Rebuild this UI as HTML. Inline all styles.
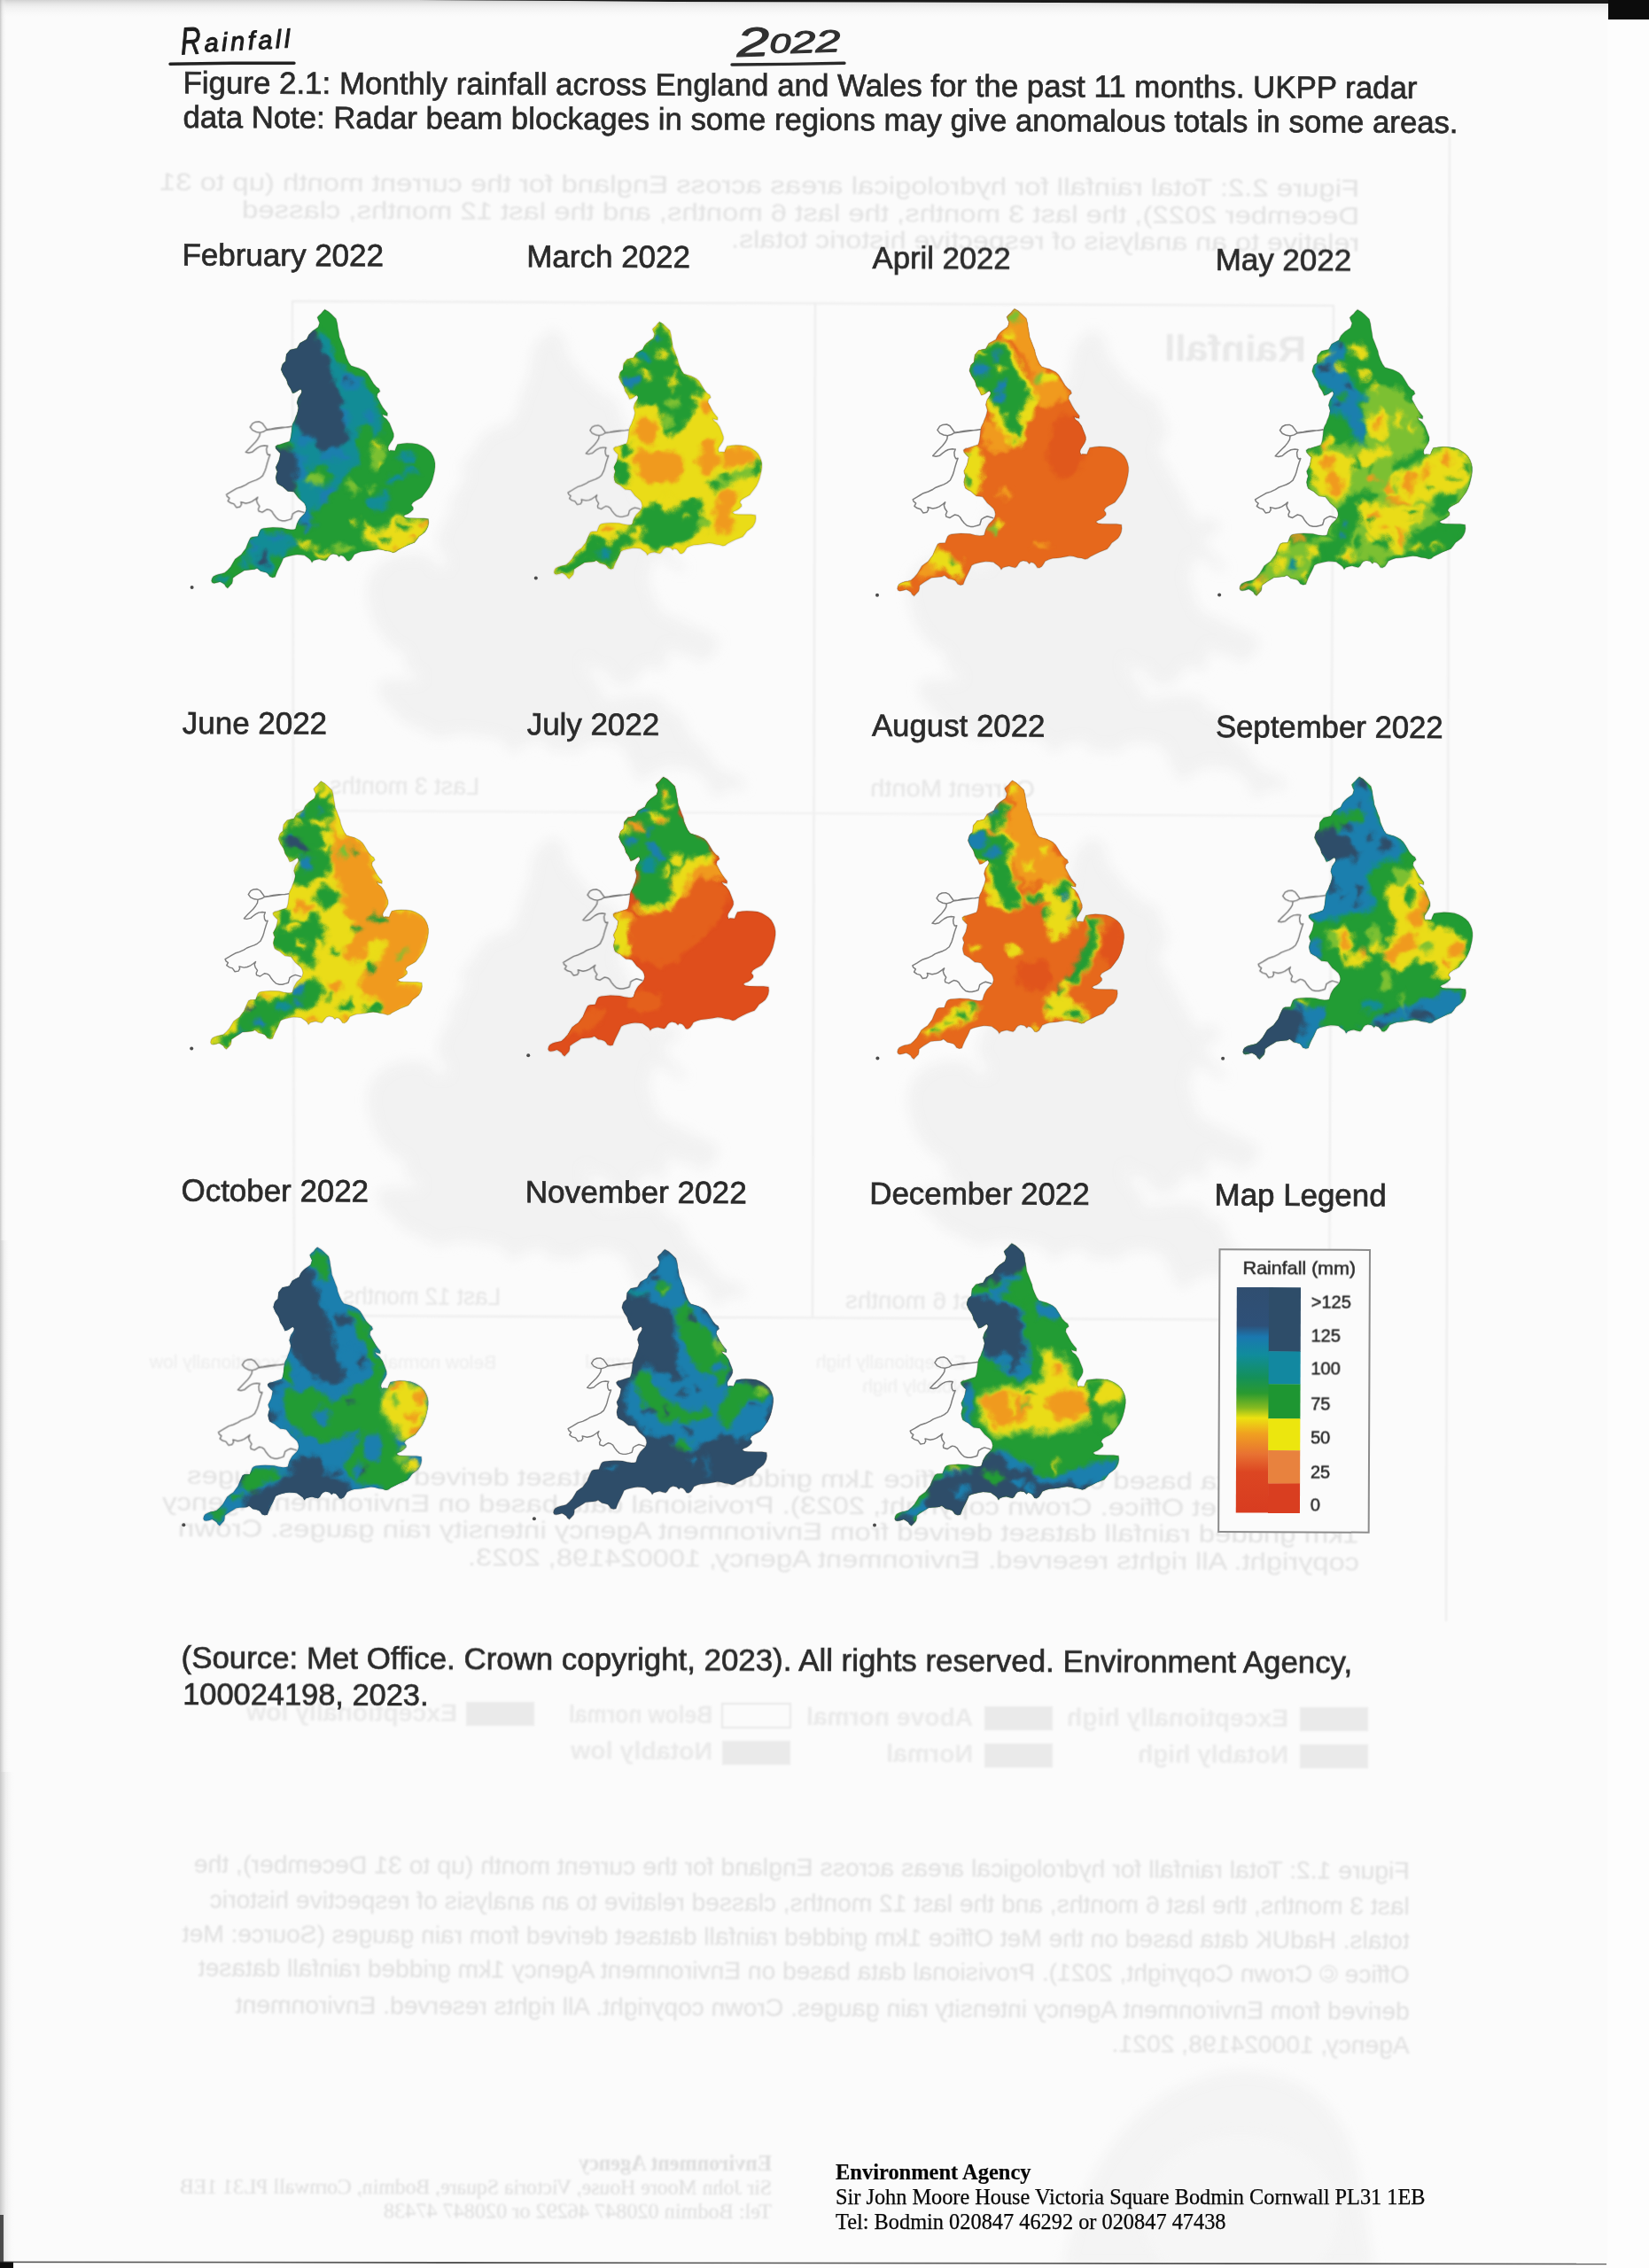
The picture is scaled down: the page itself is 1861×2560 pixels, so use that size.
<!DOCTYPE html>
<html lang="en"><head><meta charset="utf-8"><title>Figure 2.1: Monthly rainfall across England and Wales 2022</title>
<style>
html,body{margin:0;padding:0;background:#fbfbfb;}
body{width:1861px;height:2560px;overflow:hidden;}
svg{display:block;}
text{white-space:pre;}
</style></head>
<body>
<svg width="1861" height="2560" viewBox="0 0 1861 2560">
<defs>
<filter id="gb1" x="-5%" y="-30%" width="110%" height="160%"><feGaussianBlur stdDeviation="1.1"/></filter>
<filter id="gb6" x="-20%" y="-20%" width="140%" height="140%"><feGaussianBlur stdDeviation="7"/></filter>
<g id="gmap"><path d="M1145.1 348.4 L1149.5 350.9 L1153.0 354.1 L1158.3 359.3 L1159.7 364.6 L1160.4 369.9 L1161.4 375.2 L1162.1 380.4 L1164.4 386.1 L1166.2 391.0 L1168.0 395.4 L1168.8 399.8 L1170.9 405.4 L1173.2 410.3 L1175.9 413.9 L1180.3 415.3 L1184.7 416.5 L1188.5 418.3 L1191.7 420.0 L1194.9 423.0 L1197.0 426.2 L1199.6 430.6 L1202.2 435.0 L1205.4 438.5 L1208.4 440.6 L1209.6 443.8 L1206.6 446.4 L1206.1 449.9 L1208.4 454.3 L1210.2 457.8 L1212.8 462.2 L1215.4 465.7 L1218.4 469.3 L1218.1 472.2 L1214.9 471.5 L1212.4 470.5 L1213.7 473.3 L1217.2 475.8 L1220.7 480.7 L1222.5 485.1 L1224.2 489.5 L1225.5 493.0 L1225.6 496.5 L1224.2 500.0 L1221.9 503.6 L1219.5 507.4 L1219.0 510.2 L1220.2 513.2 L1221.6 512.3 L1226.9 512.7 L1228.3 508.8 L1230.0 505.3 L1235.7 504.4 L1240.9 503.9 L1247.1 504.2 L1253.2 504.9 L1258.2 506.7 L1262.0 508.8 L1265.9 511.6 L1269.1 514.9 L1271.4 519.0 L1272.9 522.9 L1273.8 527.3 L1273.8 531.7 L1273.1 536.9 L1271.9 542.2 L1270.8 546.6 L1269.1 551.0 L1267.0 555.4 L1263.8 559.8 L1261.2 563.3 L1258.5 566.8 L1255.0 568.9 L1251.5 570.7 L1248.0 573.0 L1246.2 576.0 L1248.3 578.8 L1248.3 581.2 L1245.3 584.1 L1242.3 586.2 L1238.8 587.6 L1237.1 589.0 L1239.5 590.7 L1243.6 591.1 L1253.2 591.4 L1260.3 591.4 L1265.9 592.2 L1266.3 596.4 L1265.6 600.6 L1264.1 604.1 L1262.0 607.3 L1258.5 610.1 L1255.0 612.6 L1252.4 616.4 L1249.7 619.6 L1245.3 621.3 L1240.9 623.1 L1235.7 625.7 L1230.4 628.4 L1227.7 630.5 L1224.8 631.2 L1220.7 629.8 L1216.3 629.3 L1211.9 628.0 L1207.5 627.5 L1202.2 628.4 L1197.0 629.3 L1192.6 629.8 L1188.2 630.1 L1183.8 631.5 L1179.7 633.3 L1178.0 636.3 L1175.9 639.3 L1173.2 641.0 L1170.9 640.7 L1168.8 637.5 L1166.7 635.4 L1163.6 634.5 L1161.8 636.3 L1159.2 633.7 L1154.8 632.8 L1151.6 634.0 L1149.5 636.3 L1148.1 638.9 L1146.0 640.7 L1142.4 640.0 L1138.9 638.9 L1135.4 639.6 L1131.9 640.7 L1130.1 642.8 L1128.4 639.8 L1126.3 638.1 L1123.1 635.8 L1121.3 634.5 L1116.9 634.0 L1112.6 633.7 L1108.2 634.4 L1103.8 635.4 L1099.9 636.5 L1096.7 638.1 L1095.0 642.1 L1093.2 646.0 L1091.4 649.5 L1089.7 653.0 L1088.3 656.5 L1087.1 659.7 L1084.1 660.4 L1080.9 659.2 L1079.1 656.5 L1077.4 654.8 L1073.9 653.7 L1070.3 653.0 L1068.2 651.2 L1065.9 649.5 L1063.0 650.9 L1059.8 651.2 L1055.4 651.6 L1051.0 652.1 L1047.5 654.4 L1044.0 656.5 L1040.8 658.6 L1037.8 660.9 L1037.6 664.3 L1036.9 667.1 L1034.3 669.9 L1031.7 672.7 L1029.5 670.9 L1028.1 668.5 L1025.5 666.7 L1022.9 665.3 L1019.3 666.4 L1015.8 667.1 L1013.7 666.4 L1012.7 664.4 L1013.4 661.4 L1014.9 659.2 L1017.9 657.6 L1021.1 656.5 L1024.6 655.8 L1028.1 654.8 L1031.7 651.6 L1035.2 647.7 L1037.8 643.3 L1040.4 638.9 L1044.0 636.1 L1047.5 633.7 L1050.1 630.1 L1052.8 626.6 L1054.9 621.3 L1057.2 616.1 L1058.4 614.0 L1060.7 612.9 L1066.8 612.6 L1068.2 608.7 L1069.5 605.5 L1071.2 603.8 L1073.9 602.9 L1079.1 602.4 L1084.4 602.0 L1089.7 602.2 L1095.0 602.5 L1100.2 603.8 L1105.5 604.6 L1108.7 604.5 L1110.8 603.8 L1111.7 600.6 L1112.6 597.6 L1114.3 594.3 L1116.1 591.4 L1118.9 588.6 L1121.3 586.2 L1122.8 583.5 L1123.5 580.5 L1122.8 577.0 L1121.3 573.9 L1117.8 570.7 L1114.3 567.7 L1111.7 564.2 L1109.0 560.7 L1105.5 560.1 L1102.0 559.8 L1098.8 557.2 L1095.8 554.5 L1092.5 552.8 L1089.7 551.0 L1088.5 547.5 L1087.9 544.0 L1088.6 540.4 L1089.7 536.9 L1088.5 534.3 L1087.9 531.7 L1089.7 528.1 L1091.4 524.6 L1092.5 520.2 L1093.2 515.8 L1091.4 514.1 L1089.7 512.3 L1087.9 510.2 L1087.4 507.9 L1089.3 506.3 L1091.4 505.3 L1087.9 508.0 L1090.0 506.4 L1093.2 505.3 L1098.5 503.6 L1103.8 501.8 L1104.8 499.3 L1105.5 496.5 L1106.0 493.0 L1106.4 489.5 L1106.7 486.0 L1107.3 482.4 L1108.5 479.8 L1109.9 477.2 L1111.1 473.7 L1112.6 470.1 L1113.6 466.6 L1114.3 463.1 L1113.6 459.9 L1112.6 456.9 L1113.3 454.0 L1114.3 450.8 L1116.1 448.2 L1117.8 445.5 L1118.2 443.1 L1116.9 441.1 L1115.0 442.0 L1112.6 443.8 L1110.1 445.2 L1107.6 445.9 L1106.4 443.4 L1105.5 441.1 L1103.8 438.5 L1102.0 435.8 L1101.3 432.9 L1100.2 429.7 L1098.5 427.1 L1096.7 424.4 L1095.3 421.2 L1094.1 418.3 L1094.8 415.3 L1095.8 412.1 L1097.4 410.3 L1099.4 408.6 L1099.7 404.7 L1100.2 400.7 L1102.4 398.0 L1104.6 395.4 L1108.7 394.5 L1112.6 393.6 L1114.3 390.6 L1116.1 387.5 L1119.9 385.4 L1124.0 383.1 L1125.2 380.4 L1126.6 377.8 L1128.7 375.5 L1131.0 373.4 L1134.0 371.3 L1137.2 369.0 L1138.2 366.4 L1138.9 363.7 L1137.5 360.8 L1136.3 357.6 L1138.1 355.5 L1140.7 353.2 L1142.8 350.6 Z"/><path d="M1106.4 484.6 L1102.0 485.3 L1095.0 485.6 L1087.9 486.3 L1082.7 487.4 L1077.4 488.1 L1074.7 484.2 L1072.1 480.7 L1068.6 478.9 L1064.2 479.3 L1060.7 481.0 L1058.0 485.3 L1060.7 488.8 L1065.1 490.9 L1069.5 491.6 L1073.9 490.4 L1077.0 488.6 Z"/><path d="M1069.5 491.6 L1068.9 495.6 L1066.8 499.2 L1063.7 503.2 L1060.7 506.2 L1057.2 509.7 L1052.8 514.5 L1056.3 515.2 L1060.7 514.1 L1063.7 511.5 L1066.8 509.2 L1070.3 507.4 L1074.7 506.7 L1078.3 507.1 L1078.3 507.0 L1077.0 510.6 L1077.4 514.9 L1078.8 517.6 L1081.2 517.2 L1079.5 522.0 L1077.7 527.8 L1076.5 532.5 L1075.3 536.1 L1072.5 541.9 L1068.9 544.8 L1065.1 546.8 L1060.7 548.4 L1056.3 550.1 L1052.8 552.4 L1047.5 554.9 L1042.2 556.6 L1038.3 558.9 L1035.2 560.8 L1030.2 563.7 L1031.3 566.1 L1033.8 567.9 L1032.0 571.2 L1035.2 573.5 L1039.0 574.6 L1041.9 578.8 L1046.1 578.1 L1047.8 575.3 L1047.1 572.5 L1052.8 573.9 L1056.6 573.2 L1060.1 571.8 L1064.2 568.9 L1066.8 566.8 L1065.4 570.3 L1066.5 573.9 L1068.9 577.4 L1067.5 580.5 L1067.9 583.0 L1072.1 584.4 L1075.3 582.3 L1077.7 580.9 L1080.9 581.6 L1083.4 583.4 L1085.5 586.9 L1088.3 590.4 L1091.4 593.2 L1095.3 594.3 L1098.8 594.3 L1102.9 593.2 L1105.9 592.2 L1106.9 589.0 L1107.6 586.2 L1110.8 584.1 L1114.3 582.7 L1117.8 583.7 L1121.3 584.8 L1145.1 348.4 Z"/></g>
<filter id="b3" x="-10%" y="-10%" width="120%" height="120%" color-interpolation-filters="sRGB"><feGaussianBlur stdDeviation="2.2" result="b"/><feTurbulence type="fractalNoise" baseFrequency="0.07" numOctaves="2" seed="7" result="n"/><feDisplacementMap in="b" in2="n" scale="16" xChannelSelector="R" yChannelSelector="G"/></filter>
<filter id="b1" x="-5%" y="-5%" width="110%" height="110%" color-interpolation-filters="sRGB"><feGaussianBlur stdDeviation="0.7"/></filter>
<path id="eng" d="M1145.1 348.4 L1149.5 350.9 L1153.0 354.1 L1158.3 359.3 L1159.7 364.6 L1160.4 369.9 L1161.4 375.2 L1162.1 380.4 L1164.4 386.1 L1166.2 391.0 L1168.0 395.4 L1168.8 399.8 L1170.9 405.4 L1173.2 410.3 L1175.9 413.9 L1180.3 415.3 L1184.7 416.5 L1188.5 418.3 L1191.7 420.0 L1194.9 423.0 L1197.0 426.2 L1199.6 430.6 L1202.2 435.0 L1205.4 438.5 L1208.4 440.6 L1209.6 443.8 L1206.6 446.4 L1206.1 449.9 L1208.4 454.3 L1210.2 457.8 L1212.8 462.2 L1215.4 465.7 L1218.4 469.3 L1218.1 472.2 L1214.9 471.5 L1212.4 470.5 L1213.7 473.3 L1217.2 475.8 L1220.7 480.7 L1222.5 485.1 L1224.2 489.5 L1225.5 493.0 L1225.6 496.5 L1224.2 500.0 L1221.9 503.6 L1219.5 507.4 L1219.0 510.2 L1220.2 513.2 L1221.6 512.3 L1226.9 512.7 L1228.3 508.8 L1230.0 505.3 L1235.7 504.4 L1240.9 503.9 L1247.1 504.2 L1253.2 504.9 L1258.2 506.7 L1262.0 508.8 L1265.9 511.6 L1269.1 514.9 L1271.4 519.0 L1272.9 522.9 L1273.8 527.3 L1273.8 531.7 L1273.1 536.9 L1271.9 542.2 L1270.8 546.6 L1269.1 551.0 L1267.0 555.4 L1263.8 559.8 L1261.2 563.3 L1258.5 566.8 L1255.0 568.9 L1251.5 570.7 L1248.0 573.0 L1246.2 576.0 L1248.3 578.8 L1248.3 581.2 L1245.3 584.1 L1242.3 586.2 L1238.8 587.6 L1237.1 589.0 L1239.5 590.7 L1243.6 591.1 L1253.2 591.4 L1260.3 591.4 L1265.9 592.2 L1266.3 596.4 L1265.6 600.6 L1264.1 604.1 L1262.0 607.3 L1258.5 610.1 L1255.0 612.6 L1252.4 616.4 L1249.7 619.6 L1245.3 621.3 L1240.9 623.1 L1235.7 625.7 L1230.4 628.4 L1227.7 630.5 L1224.8 631.2 L1220.7 629.8 L1216.3 629.3 L1211.9 628.0 L1207.5 627.5 L1202.2 628.4 L1197.0 629.3 L1192.6 629.8 L1188.2 630.1 L1183.8 631.5 L1179.7 633.3 L1178.0 636.3 L1175.9 639.3 L1173.2 641.0 L1170.9 640.7 L1168.8 637.5 L1166.7 635.4 L1163.6 634.5 L1161.8 636.3 L1159.2 633.7 L1154.8 632.8 L1151.6 634.0 L1149.5 636.3 L1148.1 638.9 L1146.0 640.7 L1142.4 640.0 L1138.9 638.9 L1135.4 639.6 L1131.9 640.7 L1130.1 642.8 L1128.4 639.8 L1126.3 638.1 L1123.1 635.8 L1121.3 634.5 L1116.9 634.0 L1112.6 633.7 L1108.2 634.4 L1103.8 635.4 L1099.9 636.5 L1096.7 638.1 L1095.0 642.1 L1093.2 646.0 L1091.4 649.5 L1089.7 653.0 L1088.3 656.5 L1087.1 659.7 L1084.1 660.4 L1080.9 659.2 L1079.1 656.5 L1077.4 654.8 L1073.9 653.7 L1070.3 653.0 L1068.2 651.2 L1065.9 649.5 L1063.0 650.9 L1059.8 651.2 L1055.4 651.6 L1051.0 652.1 L1047.5 654.4 L1044.0 656.5 L1040.8 658.6 L1037.8 660.9 L1037.6 664.3 L1036.9 667.1 L1034.3 669.9 L1031.7 672.7 L1029.5 670.9 L1028.1 668.5 L1025.5 666.7 L1022.9 665.3 L1019.3 666.4 L1015.8 667.1 L1013.7 666.4 L1012.7 664.4 L1013.4 661.4 L1014.9 659.2 L1017.9 657.6 L1021.1 656.5 L1024.6 655.8 L1028.1 654.8 L1031.7 651.6 L1035.2 647.7 L1037.8 643.3 L1040.4 638.9 L1044.0 636.1 L1047.5 633.7 L1050.1 630.1 L1052.8 626.6 L1054.9 621.3 L1057.2 616.1 L1058.4 614.0 L1060.7 612.9 L1066.8 612.6 L1068.2 608.7 L1069.5 605.5 L1071.2 603.8 L1073.9 602.9 L1079.1 602.4 L1084.4 602.0 L1089.7 602.2 L1095.0 602.5 L1100.2 603.8 L1105.5 604.6 L1108.7 604.5 L1110.8 603.8 L1111.7 600.6 L1112.6 597.6 L1114.3 594.3 L1116.1 591.4 L1118.9 588.6 L1121.3 586.2 L1122.8 583.5 L1123.5 580.5 L1122.8 577.0 L1121.3 573.9 L1117.8 570.7 L1114.3 567.7 L1111.7 564.2 L1109.0 560.7 L1105.5 560.1 L1102.0 559.8 L1098.8 557.2 L1095.8 554.5 L1092.5 552.8 L1089.7 551.0 L1088.5 547.5 L1087.9 544.0 L1088.6 540.4 L1089.7 536.9 L1088.5 534.3 L1087.9 531.7 L1089.7 528.1 L1091.4 524.6 L1092.5 520.2 L1093.2 515.8 L1091.4 514.1 L1089.7 512.3 L1087.9 510.2 L1087.4 507.9 L1089.3 506.3 L1091.4 505.3 L1087.9 508.0 L1090.0 506.4 L1093.2 505.3 L1098.5 503.6 L1103.8 501.8 L1104.8 499.3 L1105.5 496.5 L1106.0 493.0 L1106.4 489.5 L1106.7 486.0 L1107.3 482.4 L1108.5 479.8 L1109.9 477.2 L1111.1 473.7 L1112.6 470.1 L1113.6 466.6 L1114.3 463.1 L1113.6 459.9 L1112.6 456.9 L1113.3 454.0 L1114.3 450.8 L1116.1 448.2 L1117.8 445.5 L1118.2 443.1 L1116.9 441.1 L1115.0 442.0 L1112.6 443.8 L1110.1 445.2 L1107.6 445.9 L1106.4 443.4 L1105.5 441.1 L1103.8 438.5 L1102.0 435.8 L1101.3 432.9 L1100.2 429.7 L1098.5 427.1 L1096.7 424.4 L1095.3 421.2 L1094.1 418.3 L1094.8 415.3 L1095.8 412.1 L1097.4 410.3 L1099.4 408.6 L1099.7 404.7 L1100.2 400.7 L1102.4 398.0 L1104.6 395.4 L1108.7 394.5 L1112.6 393.6 L1114.3 390.6 L1116.1 387.5 L1119.9 385.4 L1124.0 383.1 L1125.2 380.4 L1126.6 377.8 L1128.7 375.5 L1131.0 373.4 L1134.0 371.3 L1137.2 369.0 L1138.2 366.4 L1138.9 363.7 L1137.5 360.8 L1136.3 357.6 L1138.1 355.5 L1140.7 353.2 L1142.8 350.6 Z"/>
<g id="wal" fill="none" stroke="#7d7d7d" stroke-width="1.5" stroke-linejoin="round"><path d="M1106.4 484.6 L1102.0 485.3 L1095.0 485.6 L1087.9 486.3 L1082.7 487.4 L1077.4 488.1 L1074.7 484.2 L1072.1 480.7 L1068.6 478.9 L1064.2 479.3 L1060.7 481.0 L1058.0 485.3 L1060.7 488.8 L1065.1 490.9 L1069.5 491.6 L1073.9 490.4 L1077.0 488.6 Z"/><path d="M1069.5 491.6 L1068.9 495.6 L1066.8 499.2 L1063.7 503.2 L1060.7 506.2 L1057.2 509.7 L1052.8 514.5 L1056.3 515.2 L1060.7 514.1 L1063.7 511.5 L1066.8 509.2 L1070.3 507.4 L1074.7 506.7 L1078.3 507.1 L1078.3 507.0 L1077.0 510.6 L1077.4 514.9 L1078.8 517.6 L1081.2 517.2 L1079.5 522.0 L1077.7 527.8 L1076.5 532.5 L1075.3 536.1 L1072.5 541.9 L1068.9 544.8 L1065.1 546.8 L1060.7 548.4 L1056.3 550.1 L1052.8 552.4 L1047.5 554.9 L1042.2 556.6 L1038.3 558.9 L1035.2 560.8 L1030.2 563.7 L1031.3 566.1 L1033.8 567.9 L1032.0 571.2 L1035.2 573.5 L1039.0 574.6 L1041.9 578.8 L1046.1 578.1 L1047.8 575.3 L1047.1 572.5 L1052.8 573.9 L1056.6 573.2 L1060.1 571.8 L1064.2 568.9 L1066.8 566.8 L1065.4 570.3 L1066.5 573.9 L1068.9 577.4 L1067.5 580.5 L1067.9 583.0 L1072.1 584.4 L1075.3 582.3 L1077.7 580.9 L1080.9 581.6 L1083.4 583.4 L1085.5 586.9 L1088.3 590.4 L1091.4 593.2 L1095.3 594.3 L1098.8 594.3 L1102.9 593.2 L1105.9 592.2 L1106.9 589.0 L1107.6 586.2 L1110.8 584.1 L1114.3 582.7 L1117.8 583.7 L1121.3 584.8"/></g>
<clipPath id="c-feb"><use href="#eng" transform="matrix(0.9668 0 0 0.9699 -740.54 11.43)"/></clipPath>
<clipPath id="c-mar"><use href="#eng" transform="matrix(0.8987 0 0 0.8943 -284.94 51.79)"/></clipPath>
<clipPath id="c-apr"><use href="#eng" transform="matrix(0.9994 0 0 1.0000 0.55 0.09)"/></clipPath>
<clipPath id="c-may"><use href="#eng" transform="matrix(1.0057 0 0 0.9960 380.45 2.41)"/></clipPath>
<clipPath id="c-jun"><use href="#eng" transform="matrix(0.9417 0 0 0.9327 -716.08 556.90)"/></clipPath>
<clipPath id="c-jul"><use href="#eng" transform="matrix(0.9831 0 0 0.9726 -377.12 538.04)"/></clipPath>
<clipPath id="c-aug"><use href="#eng" transform="matrix(0.9799 0 0 0.9699 20.33 543.12)"/></clipPath>
<clipPath id="c-sep"><use href="#eng" transform="matrix(0.9929 0 0 0.9833 397.14 534.20)"/></clipPath>
<clipPath id="c-oct"><use href="#eng" transform="matrix(0.9721 0 0 0.9699 -755.06 1069.82)"/></clipPath>
<clipPath id="c-nov"><use href="#eng" transform="matrix(0.9506 0 0 0.9403 -338.21 1082.57)"/></clipPath>
<clipPath id="c-dec"><use href="#eng" transform="matrix(0.9981 0 0 0.9833 -1.09 1060.90)"/></clipPath>
<linearGradient id="topshade" x1="0" y1="0" x2="0" y2="1"><stop offset="0" stop-color="#a8a8a8" stop-opacity=".5"/><stop offset=".25" stop-color="#d0d0d0" stop-opacity=".4"/><stop offset="1" stop-color="#fbfbfb" stop-opacity="0"/></linearGradient>
<linearGradient id="leftshade" x1="0" y1="0" x2="1" y2="0"><stop offset="0" stop-color="#b0b0b0" stop-opacity=".7"/><stop offset=".4" stop-color="#e0e0e0" stop-opacity=".5"/><stop offset="1" stop-color="#fbfbfb" stop-opacity="0"/></linearGradient>
<linearGradient id="lgrad" x1="0" y1="0" x2="0" y2="1">
<stop offset="0" stop-color="#304e70"/><stop offset=".17" stop-color="#2e5078"/><stop offset=".22" stop-color="#1a78b0"/><stop offset=".30" stop-color="#108c9c"/>
<stop offset=".40" stop-color="#14905a"/><stop offset=".47" stop-color="#2a9a30"/><stop offset=".535" stop-color="#86ba20"/><stop offset=".58" stop-color="#ece210"/>
<stop offset=".65" stop-color="#f0a020"/><stop offset=".74" stop-color="#e87232"/><stop offset=".82" stop-color="#dc4622"/><stop offset="1" stop-color="#d83c20"/></linearGradient>
<filter id="tb" x="-2%" y="-20%" width="104%" height="140%"><feGaussianBlur stdDeviation="0.45"/></filter>
</defs>
<rect x="0" y="0" width="1861" height="2560" fill="#fbfbfb"/>
<g id="ghost">
<g filter="url(#gb6)" fill="#e8e8e8" opacity=".5">
<use href="#gmap" transform="translate(2491.5 -195.9) scale(-1.63 1.63)"/>
<use href="#gmap" transform="translate(3101.5 -195.9) scale(-1.63 1.63)"/>
<use href="#gmap" transform="translate(2491.5 377.1) scale(-1.63 1.63)"/>
<use href="#gmap" transform="translate(3101.5 377.1) scale(-1.63 1.63)"/>
<path d="M1200 2560 C1220 2450 1280 2360 1380 2340 C1460 2330 1510 2370 1530 2440 L1550 2560 Z" fill="#ececec"/>
</g>
<ellipse cx="1400" cy="2500" rx="110" ry="90" fill="#f6f6f6" filter="url(#gb6)"/>
<g fill="none" stroke="#ececec" stroke-width="2" filter="url(#gb1)">
<path d="M330 340 L1505 345 L1500 1490 L332 1485 Z"/>
<path d="M920 342 L917 1488"/>
<path d="M331 915 L1503 921" stroke="#f0f0f0"/>
<path d="M1636 150 L1632 1830"/>
</g>
<g filter="url(#gb1)" opacity=".82">
<text transform="translate(1534 222) rotate(0.32) scale(-1 1)" x="0" y="0" font-family='"Liberation Sans", Arial, Helvetica, sans-serif' font-size="27.4" font-weight="normal" fill="#dcdcdc" textLength="1354" lengthAdjust="spacingAndGlyphs">Figure 2.2: Total rainfall for hydrological areas across England for the current month (up to 31</text>
<text transform="translate(1534 253) rotate(0.32) scale(-1 1)" x="0" y="0" font-family='"Liberation Sans", Arial, Helvetica, sans-serif' font-size="27.4" font-weight="normal" fill="#dcdcdc" textLength="1261" lengthAdjust="spacingAndGlyphs">December 2022), the last 3 months, the last 6 months, and the last 12 months, classed</text>
<text transform="translate(1534 283.5) rotate(0.32) scale(-1 1)" x="0" y="0" font-family='"Liberation Sans", Arial, Helvetica, sans-serif' font-size="27.4" font-weight="normal" fill="#dcdcdc" textLength="709" lengthAdjust="spacingAndGlyphs">relative to an analysis of respective historic totals.</text>
<text transform="translate(1474 408) rotate(0.32) scale(-1 1)" x="0" y="0" font-family='"Liberation Sans", Arial, Helvetica, sans-serif' font-size="41" font-weight="bold" fill="#e4e4e4" textLength="160" lengthAdjust="spacingAndGlyphs">Rainfall</text>
<text transform="translate(1168 900) rotate(0.32) scale(-1 1)" x="0" y="0" font-family='"Liberation Sans", Arial, Helvetica, sans-serif' font-size="27" font-weight="normal" fill="#e0e0e0" textLength="186" lengthAdjust="spacingAndGlyphs">Current Month</text>
<text transform="translate(541 897) rotate(0.32) scale(-1 1)" x="0" y="0" font-family='"Liberation Sans", Arial, Helvetica, sans-serif' font-size="27" font-weight="normal" fill="#e0e0e0" textLength="169" lengthAdjust="spacingAndGlyphs">Last 3 months</text>
<text transform="translate(1128 1478) rotate(0.32) scale(-1 1)" x="0" y="0" font-family='"Liberation Sans", Arial, Helvetica, sans-serif' font-size="27" font-weight="normal" fill="#e0e0e0" textLength="174" lengthAdjust="spacingAndGlyphs">Last 6 months</text>
<text transform="translate(565 1473) rotate(0.32) scale(-1 1)" x="0" y="0" font-family='"Liberation Sans", Arial, Helvetica, sans-serif' font-size="27" font-weight="normal" fill="#e0e0e0" textLength="178" lengthAdjust="spacingAndGlyphs">Last 12 months</text>
<text transform="translate(1090 1545) rotate(0.32) scale(-1 1)" x="0" y="0" font-family='"Liberation Sans", Arial, Helvetica, sans-serif' font-size="21" font-weight="normal" fill="#eaeaea">Exceptionally high</text>
<text transform="translate(1090 1572) rotate(0.32) scale(-1 1)" x="0" y="0" font-family='"Liberation Sans", Arial, Helvetica, sans-serif' font-size="21" font-weight="normal" fill="#eaeaea">Notably high</text>
<text transform="translate(790 1545) rotate(0.32) scale(-1 1)" x="0" y="0" font-family='"Liberation Sans", Arial, Helvetica, sans-serif' font-size="21" font-weight="normal" fill="#eaeaea">Above normal</text>
<text transform="translate(560 1545) rotate(0.32) scale(-1 1)" x="0" y="0" font-family='"Liberation Sans", Arial, Helvetica, sans-serif' font-size="21" font-weight="normal" fill="#eaeaea">Below normal</text>
<text transform="translate(330 1545) rotate(0.32) scale(-1 1)" x="0" y="0" font-family='"Liberation Sans", Arial, Helvetica, sans-serif' font-size="21" font-weight="normal" fill="#eaeaea">Exceptionally low</text>
<text transform="translate(1534 1682) rotate(0.32) scale(-1 1)" x="0" y="0" font-family='"Liberation Sans", Arial, Helvetica, sans-serif' font-size="27.4" font-weight="normal" fill="#dcdcdc" textLength="1323" lengthAdjust="spacingAndGlyphs">HadUK data based on the Met Office 1km gridded rainfall dataset derived from rain gauges</text>
<text transform="translate(1534 1712) rotate(0.32) scale(-1 1)" x="0" y="0" font-family='"Liberation Sans", Arial, Helvetica, sans-serif' font-size="27.4" font-weight="normal" fill="#dcdcdc" textLength="1351" lengthAdjust="spacingAndGlyphs">(Source: Met Office. Crown copyright, 2023). Provisional data based on Environment Agency</text>
<text transform="translate(1534 1741.5) rotate(0.32) scale(-1 1)" x="0" y="0" font-family='"Liberation Sans", Arial, Helvetica, sans-serif' font-size="27.4" font-weight="normal" fill="#dcdcdc" textLength="1333" lengthAdjust="spacingAndGlyphs">1km gridded rainfall dataset derived from Environment Agency intensity rain gauges. Crown</text>
<text transform="translate(1534 1772.5) rotate(0.32) scale(-1 1)" x="0" y="0" font-family='"Liberation Sans", Arial, Helvetica, sans-serif' font-size="27.4" font-weight="normal" fill="#dcdcdc" textLength="1006" lengthAdjust="spacingAndGlyphs">copyright. All rights reserved. Environment Agency, 100024198, 2023.</text>
<text transform="translate(1454 1949) rotate(0.32) scale(-1 1)" x="0" y="0" font-family='"Liberation Sans", Arial, Helvetica, sans-serif' font-size="28" font-weight="bold" fill="#e6e6e6" textLength="250" lengthAdjust="spacingAndGlyphs">Exceptionally high</text>
<text transform="translate(1098 1948) rotate(0.32) scale(-1 1)" x="0" y="0" font-family='"Liberation Sans", Arial, Helvetica, sans-serif' font-size="28" font-weight="bold" fill="#e6e6e6" textLength="188" lengthAdjust="spacingAndGlyphs">Above normal</text>
<text transform="translate(804 1945) rotate(0.32) scale(-1 1)" x="0" y="0" font-family='"Liberation Sans", Arial, Helvetica, sans-serif' font-size="28" font-weight="bold" fill="#e6e6e6" textLength="162" lengthAdjust="spacingAndGlyphs">Below normal</text>
<text transform="translate(516 1943) rotate(0.32) scale(-1 1)" x="0" y="0" font-family='"Liberation Sans", Arial, Helvetica, sans-serif' font-size="28" font-weight="bold" fill="#e6e6e6" textLength="238" lengthAdjust="spacingAndGlyphs">Exceptionally low</text>
<text transform="translate(1454 1990) rotate(0.32) scale(-1 1)" x="0" y="0" font-family='"Liberation Sans", Arial, Helvetica, sans-serif' font-size="28" font-weight="bold" fill="#e6e6e6" textLength="170" lengthAdjust="spacingAndGlyphs">Notably high</text>
<text transform="translate(1098 1989) rotate(0.32) scale(-1 1)" x="0" y="0" font-family='"Liberation Sans", Arial, Helvetica, sans-serif' font-size="28" font-weight="bold" fill="#e6e6e6" textLength="98" lengthAdjust="spacingAndGlyphs">Normal</text>
<text transform="translate(804 1986) rotate(0.32) scale(-1 1)" x="0" y="0" font-family='"Liberation Sans", Arial, Helvetica, sans-serif' font-size="28" font-weight="bold" fill="#e6e6e6" textLength="160" lengthAdjust="spacingAndGlyphs">Notably low</text>
<rect x="1467" y="1927" width="77" height="27" fill="#e6e6e6"/>
<rect x="1111" y="1926" width="77" height="27" fill="#e6e6e6"/>
<rect x="526" y="1921" width="77" height="27" fill="#e6e6e6"/>
<rect x="1467" y="1969" width="77" height="27" fill="#e6e6e6"/>
<rect x="1111" y="1968" width="77" height="27" fill="#e6e6e6"/>
<rect x="815" y="1965" width="77" height="27" fill="#e6e6e6"/>
<rect x="815" y="1923" width="77" height="27" fill="none" stroke="#dcdcdc" stroke-width="1.5"/>
<text transform="translate(1590.7 2121) rotate(0.32) scale(-1 1)" x="0" y="0" font-family='"Liberation Sans", Arial, Helvetica, sans-serif' font-size="27.6" font-weight="normal" fill="#d9d9d9" textLength="1372" lengthAdjust="spacingAndGlyphs">Figure 1.2: Total rainfall for hydrological areas across England for the current month (up to 31 December), the</text>
<text transform="translate(1590.7 2161) rotate(0.32) scale(-1 1)" x="0" y="0" font-family='"Liberation Sans", Arial, Helvetica, sans-serif' font-size="27.6" font-weight="normal" fill="#d9d9d9" textLength="1354" lengthAdjust="spacingAndGlyphs">last 3 months, the last 6 months, and the last 12 months, classed relative to an analysis of respective historic</text>
<text transform="translate(1590.7 2199.6) rotate(0.32) scale(-1 1)" x="0" y="0" font-family='"Liberation Sans", Arial, Helvetica, sans-serif' font-size="27.6" font-weight="normal" fill="#d9d9d9" textLength="1385" lengthAdjust="spacingAndGlyphs">totals. HadUK data based on the Met Office 1km gridded rainfall dataset derived from rain gauges (Source: Met</text>
<text transform="translate(1590.7 2238) rotate(0.32) scale(-1 1)" x="0" y="0" font-family='"Liberation Sans", Arial, Helvetica, sans-serif' font-size="27.6" font-weight="normal" fill="#d9d9d9" textLength="1367" lengthAdjust="spacingAndGlyphs">Office © Crown Copyright, 2021). Provisional data based on Environment Agency 1km gridded rainfall dataset</text>
<text transform="translate(1590.7 2279.5) rotate(0.32) scale(-1 1)" x="0" y="0" font-family='"Liberation Sans", Arial, Helvetica, sans-serif' font-size="27.6" font-weight="normal" fill="#d9d9d9" textLength="1325" lengthAdjust="spacingAndGlyphs">derived from Environment Agency intensity rain gauges. Crown copyright. All rights reserved. Environment</text>
<text transform="translate(1590.7 2318) rotate(0.32) scale(-1 1)" x="0" y="0" font-family='"Liberation Sans", Arial, Helvetica, sans-serif' font-size="27.6" font-weight="normal" fill="#d9d9d9" textLength="336" lengthAdjust="spacingAndGlyphs">Agency, 100024198, 2021.</text>
<text transform="translate(871 2450) rotate(0.1) scale(-1 1)" x="0" y="0" font-family='"Liberation Serif", "Times New Roman", Times, serif' font-size="24.2" font-weight="bold" fill="#d6d6d6">Environment Agency</text>
<text transform="translate(871 2477) rotate(0.1) scale(-1 1)" x="0" y="0" font-family='"Liberation Serif", "Times New Roman", Times, serif' font-size="24.2" font-weight="normal" fill="#d6d6d6" textLength="668" lengthAdjust="spacingAndGlyphs">Sir John Moore House, Victoria Square, Bodmin, Cornwall PL31 1EB</text>
<text transform="translate(871 2504) rotate(0.1) scale(-1 1)" x="0" y="0" font-family='"Liberation Serif", "Times New Roman", Times, serif' font-size="24.2" font-weight="normal" fill="#d6d6d6" textLength="438" lengthAdjust="spacingAndGlyphs">Tel: Bodmin 020847 46292 or 020847 47438</text>
</g>
</g>
<g id="maps">
<g id="m-feb">
<use href="#wal" transform="matrix(0.9668 0 0 0.9699 -740.54 11.43)" filter="url(#b1)"/>
<g filter="url(#b1)"><g clip-path="url(#c-feb)">
<rect x="227" y="337" width="276" height="346" fill="#229c34"/>
<g filter="url(#b3)">
<path d="M360.8 374.0 L374.4 384.1 L377.8 404.5 L388.0 414.7 L405.0 424.9 L418.6 438.5 L425.4 455.5 L432.2 475.8 L428.8 492.8 L411.8 503.0 L405.0 516.6 L394.8 533.6 L377.8 553.9 L367.6 564.1 L357.4 574.3 L343.9 584.5 L333.7 560.7 L330.3 509.8 L326.9 492.8 L330.3 475.8 L377.8 458.9 L371.0 407.9 L357.4 390.9 Z" fill="#128c96"/>
<ellipse cx="394.8" cy="430.0" rx="10.2" ry="10.2" fill="#1b7fae"/>
<ellipse cx="389.7" cy="469.0" rx="6.8" ry="10.2" fill="#1b7fae"/>
<ellipse cx="343.9" cy="496.2" rx="11.9" ry="8.5" fill="#1b7fae"/>
<ellipse cx="377.8" cy="513.2" rx="17.0" ry="6.8" fill="#1b7fae"/>
<ellipse cx="337.1" cy="526.8" rx="6.8" ry="17.0" fill="#1b7fae"/>
<ellipse cx="416.9" cy="469.0" rx="5.1" ry="6.8" fill="#1b7fae"/>
<ellipse cx="367.6" cy="557.3" rx="6.8" ry="11.9" fill="#1b7fae" transform="rotate(30 367.6 557.3)"/>
<ellipse cx="343.9" cy="584.5" rx="8.5" ry="10.2" fill="#1b7fae"/>
<ellipse cx="411.8" cy="492.8" rx="10.2" ry="13.6" fill="#229c34"/>
<ellipse cx="360.8" cy="537.0" rx="15.3" ry="10.2" fill="#229c34"/>
<path d="M352.3 370.6 L360.8 387.5 L367.6 401.1 L374.4 418.1 L377.8 435.1 L384.6 452.1 L388.0 469.0 L391.4 486.0 L393.1 499.6 L377.8 508.1 L364.2 506.4 L350.7 492.8 L340.5 489.4 L333.7 479.2 L333.7 458.9 L337.1 445.3 L323.5 448.7 L309.9 428.3 L306.5 414.7 L313.3 396.0 L326.9 387.5 L337.1 375.7 Z" fill="#2e4d69"/>
<path d="M299.7 499.6 L323.5 503.0 L333.7 509.8 L333.7 526.8 L332.0 543.8 L330.3 557.3 L320.1 562.4 L304.8 552.2 L301.4 535.3 L303.1 520.0 Z" fill="#2e4d69"/>
<ellipse cx="392.3" cy="428.3" rx="3.4" ry="3.1" fill="#2e4d69"/>
<ellipse cx="459.3" cy="516.6" rx="10.2" ry="6.8" fill="#128c96"/>
<ellipse cx="462.7" cy="531.9" rx="8.5" ry="4.2" fill="#128c96"/>
<ellipse cx="445.7" cy="540.4" rx="10.2" ry="5.1" fill="#128c96" transform="rotate(-20 445.7 540.4)"/>
<ellipse cx="425.4" cy="567.5" rx="11.9" ry="8.5" fill="#128c96"/>
<ellipse cx="433.9" cy="557.3" rx="4.2" ry="5.1" fill="#128c96"/>
<ellipse cx="425.4" cy="516.6" rx="7.6" ry="13.6" fill="#7cc032" transform="rotate(10 425.4 516.6)"/>
<ellipse cx="423.7" cy="503.0" rx="3.4" ry="3.4" fill="#eadc18"/>
<ellipse cx="428.8" cy="523.4" rx="2.5" ry="3.4" fill="#eadc18"/>
<ellipse cx="354.0" cy="540.4" rx="10.2" ry="6.8" fill="#7cc032"/>
<ellipse cx="398.2" cy="550.6" rx="8.5" ry="5.1" fill="#7cc032" transform="rotate(30 398.2 550.6)"/>
<ellipse cx="418.6" cy="552.2" rx="3.4" ry="3.4" fill="#7cc032"/>
<path d="M438.9 582.8 L462.7 582.8 L484.8 584.5 L483.1 599.8 L471.2 613.4 L452.5 625.3 L437.2 628.7 L423.7 621.9 L408.4 606.6 L411.8 589.6 L425.4 598.1 L435.6 594.7 Z" fill="#7cc032"/>
<path d="M442.3 584.5 L462.7 586.2 L483.1 586.2 L481.4 598.1 L469.5 611.7 L452.5 621.9 L438.9 625.3 L425.4 618.5 L411.8 604.9 L415.2 591.3 L425.4 601.5 L435.6 598.1 Z" fill="#eadc18"/>
<ellipse cx="455.9" cy="594.7" rx="8.5" ry="4.2" fill="#229c34"/>
<ellipse cx="435.6" cy="608.3" rx="5.1" ry="3.4" fill="#229c34"/>
<ellipse cx="479.7" cy="589.6" rx="4.2" ry="3.4" fill="#f09a1e"/>
<ellipse cx="462.7" cy="610.0" rx="4.2" ry="2.5" fill="#f09a1e"/>
<ellipse cx="449.1" cy="618.5" rx="3.4" ry="2.0" fill="#f09a1e"/>
<ellipse cx="399.9" cy="589.6" rx="3.4" ry="3.1" fill="#eadc18"/>
<ellipse cx="413.5" cy="598.1" rx="2.5" ry="8.5" fill="#eadc18"/>
<ellipse cx="343.9" cy="615.1" rx="11.9" ry="3.4" fill="#eadc18" transform="rotate(10 343.9 615.1)"/>
<ellipse cx="364.2" cy="625.3" rx="13.6" ry="3.1" fill="#eadc18" transform="rotate(5 364.2 625.3)"/>
<ellipse cx="386.3" cy="618.5" rx="10.2" ry="5.1" fill="#7cc032"/>
<path d="M281.0 618.5 L292.9 601.5 L309.9 598.1 L326.9 604.9 L333.7 615.1 L320.1 625.3 L309.9 628.7 L306.5 642.2 L299.7 650.7 L289.5 643.9 L281.0 632.1 Z" fill="#128c96"/>
<ellipse cx="313.3" cy="604.9" rx="8.5" ry="4.2" fill="#1b7fae"/>
<ellipse cx="284.4" cy="615.1" rx="3.4" ry="5.1" fill="#1b7fae"/>
<ellipse cx="296.3" cy="632.1" rx="5.9" ry="8.5" fill="#2e4d69"/>
<ellipse cx="275.9" cy="635.5" rx="4.2" ry="6.8" fill="#128c96"/>
<ellipse cx="250.5" cy="652.4" rx="8.5" ry="3.4" fill="#128c96"/>
<ellipse cx="347.3" cy="594.7" rx="5.1" ry="5.1" fill="#1b7fae"/>
<ellipse cx="343.9" cy="593.0" rx="2.5" ry="2.0" fill="#2e4d69"/>
</g></g>
<use href="#eng" transform="matrix(0.9668 0 0 0.9699 -740.54 11.43)" fill="none" stroke="#3a3020" stroke-opacity=".22" stroke-width="1.3"/>
</g>
<circle cx="216.6" cy="662.9" r="2" fill="#4a4a4a"/>
</g>
<g id="m-mar">
<use href="#wal" transform="matrix(0.8987 0 0 0.8943 -284.94 51.79)" filter="url(#b1)"/>
<g filter="url(#b1)"><g clip-path="url(#c-mar)">
<rect x="613" y="351" width="258" height="323" fill="#eadc18"/>
<g filter="url(#b3)">
<path d="M744.1 362.7 L756.0 373.8 L759.4 392.4 L767.9 417.9 L779.8 423.0 L790.0 434.9 L795.1 445.1 L788.3 455.3 L779.8 465.5 L773.0 479.0 L766.2 490.9 L756.0 492.6 L749.2 482.4 L744.1 468.9 L739.0 455.3 L728.9 458.7 L718.7 451.9 L710.2 446.8 L700.0 431.5 L700.0 417.9 L706.8 406.0 L720.4 397.5 L732.3 384.0 L739.0 373.8 Z" fill="#229c34"/>
<ellipse cx="740.7" cy="382.3" rx="5.9" ry="3.1" fill="#1b7fae" transform="rotate(-30 740.7 382.3)"/>
<ellipse cx="711.9" cy="429.8" rx="10.2" ry="6.8" fill="#1b7fae" transform="rotate(10 711.9 429.8)"/>
<ellipse cx="727.2" cy="400.9" rx="6.8" ry="4.2" fill="#128c96"/>
<ellipse cx="748.4" cy="399.2" rx="6.8" ry="4.2" fill="#eadc18"/>
<ellipse cx="712.7" cy="408.6" rx="8.5" ry="2.5" fill="#eadc18" transform="rotate(-10 712.7 408.6)"/>
<ellipse cx="728.9" cy="423.0" rx="7.6" ry="3.7" fill="#eadc18" transform="rotate(20 728.9 423.0)"/>
<ellipse cx="759.4" cy="431.5" rx="3.7" ry="9.3" fill="#eadc18"/>
<ellipse cx="788.3" cy="448.5" rx="5.1" ry="5.1" fill="#eadc18"/>
<ellipse cx="759.4" cy="455.3" rx="8.5" ry="6.8" fill="#7cc032"/>
<ellipse cx="754.3" cy="475.7" rx="6.8" ry="6.8" fill="#7cc032"/>
<ellipse cx="728.9" cy="485.8" rx="13.6" ry="15.3" fill="#f09a1e"/>
<ellipse cx="798.5" cy="458.7" rx="5.9" ry="9.3" fill="#f09a1e" transform="rotate(-20 798.5 458.7)"/>
<ellipse cx="800.2" cy="502.8" rx="8.5" ry="10.2" fill="#f09a1e"/>
<ellipse cx="705.9" cy="506.2" rx="6.8" ry="7.6" fill="#229c34"/>
<path d="M718.7 510.2 L739.0 506.8 L762.8 510.2 L773.0 520.4 L769.6 534.0 L762.8 544.1 L745.8 547.5 L728.9 544.1 L720.4 534.0 L715.3 520.4 Z" fill="#f09a1e"/>
<path d="M790.0 510.2 L803.6 506.8 L813.8 513.6 L810.4 527.2 L800.2 535.7 L791.7 532.3 L788.3 520.4 Z" fill="#f09a1e"/>
<path d="M820.6 510.2 L835.8 505.1 L851.1 510.2 L854.5 517.0 L844.3 522.1 L830.7 525.5 L818.9 528.9 L813.8 522.1 Z" fill="#f09a1e"/>
<ellipse cx="701.7" cy="534.0" rx="9.3" ry="15.3" fill="#229c34"/>
<ellipse cx="854.5" cy="528.9" rx="5.1" ry="10.2" fill="#229c34"/>
<path d="M796.8 544.1 L813.8 537.4 L830.7 532.3 L847.7 525.5 L852.8 534.0 L840.9 540.8 L827.3 544.1 L813.8 550.9 L803.6 552.6 Z" fill="#7cc032"/>
<ellipse cx="805.3" cy="547.5" rx="5.9" ry="5.1" fill="#229c34"/>
<ellipse cx="820.6" cy="538.2" rx="6.8" ry="3.4" fill="#229c34"/>
<path d="M810.4 554.3 L823.9 550.9 L834.1 557.7 L827.3 571.3 L822.2 581.5 L830.7 588.3 L827.3 598.5 L813.8 601.9 L803.6 595.1 L807.0 581.5 L810.4 567.9 Z" fill="#f09a1e"/>
<path d="M715.3 581.5 L728.9 574.7 L739.0 564.5 L756.0 571.3 L773.0 567.9 L786.6 564.5 L793.4 574.7 L796.8 588.3 L790.0 598.5 L779.8 605.3 L769.6 612.1 L756.0 618.9 L742.4 620.6 L728.9 615.5 L718.7 605.3 L711.9 595.1 Z" fill="#229c34"/>
<ellipse cx="756.0" cy="567.9" rx="10.2" ry="8.5" fill="#eadc18"/>
<ellipse cx="774.7" cy="583.2" rx="3.4" ry="2.5" fill="#eadc18"/>
<ellipse cx="793.4" cy="591.7" rx="5.1" ry="6.8" fill="#7cc032"/>
<path d="M625.3 644.3 L644.0 632.4 L657.5 618.9 L666.0 605.3 L677.9 608.7 L694.9 601.9 L711.9 601.9 L718.7 612.1 L705.1 618.9 L698.3 629.0 L691.5 640.9 L677.9 635.8 L660.9 634.1 L644.0 649.4 L633.8 647.7 Z" fill="#229c34"/>
<ellipse cx="684.7" cy="603.6" rx="9.3" ry="11.0" fill="#eadc18"/>
<ellipse cx="684.7" cy="595.1" rx="6.8" ry="4.2" fill="#f09a1e"/>
<ellipse cx="683.0" cy="625.7" rx="8.5" ry="5.9" fill="#128c96"/>
<ellipse cx="683.0" cy="629.0" rx="2.5" ry="2.0" fill="#1b7fae"/>
<ellipse cx="708.5" cy="605.3" rx="10.2" ry="8.5" fill="#229c34"/>
<ellipse cx="721.2" cy="600.2" rx="5.9" ry="6.8" fill="#eadc18"/>
</g></g>
<use href="#eng" transform="matrix(0.8987 0 0 0.8943 -284.94 51.79)" fill="none" stroke="#3a3020" stroke-opacity=".22" stroke-width="1.3"/>
</g>
<circle cx="604.8" cy="652.5" r="2" fill="#4a4a4a"/>
</g>
<g id="m-apr">
<use href="#wal" transform="matrix(0.9994 0 0 1.0000 0.55 0.09)" filter="url(#b1)"/>
<g filter="url(#b1)"><g clip-path="url(#c-apr)">
<rect x="1001" y="336" width="285" height="356" fill="#e6681c"/>
<g filter="url(#b3)">
<ellipse cx="1205.4" cy="503.0" rx="22.1" ry="37.4" fill="#e0581c" transform="rotate(10 1205.4 503.0)"/>
<path d="M1145.1 340.0 L1164.6 357.0 L1164.6 379.1 L1171.4 397.7 L1174.8 413.0 L1188.4 418.1 L1198.6 431.7 L1205.4 445.3 L1191.8 458.9 L1174.8 458.9 L1168.0 441.9 L1164.6 424.9 L1157.8 407.9 L1151.0 390.9 L1140.8 384.1 L1130.7 384.1 L1123.9 374.0 L1134.0 363.8 Z" fill="#f09a1e"/>
<ellipse cx="1144.2" cy="358.7" rx="6.8" ry="6.8" fill="#7cc032"/>
<ellipse cx="1137.4" cy="377.4" rx="8.5" ry="5.1" fill="#eadc18"/>
<path d="M1110.3 385.8 L1127.3 384.1 L1140.8 390.9 L1151.0 404.5 L1157.8 421.5 L1168.0 438.5 L1171.4 455.5 L1164.6 469.0 L1157.8 486.0 L1154.4 503.0 L1144.2 506.4 L1134.0 492.8 L1123.9 475.8 L1113.7 458.9 L1110.3 448.7 L1100.1 441.9 L1086.5 418.1 L1093.3 401.1 Z" fill="#eadc18"/>
<path d="M1113.7 389.2 L1127.3 385.8 L1137.4 396.0 L1144.2 411.3 L1151.0 424.9 L1157.8 438.5 L1164.6 448.7 L1157.8 455.5 L1151.0 462.3 L1152.7 475.8 L1151.0 492.8 L1145.9 501.3 L1140.8 489.4 L1134.0 472.4 L1123.9 458.9 L1117.1 445.3 L1105.2 438.5 L1089.9 421.5 L1091.6 411.3 L1100.1 399.4 Z" fill="#229c34"/>
<ellipse cx="1106.9" cy="418.1" rx="10.2" ry="8.5" fill="#1b7fae"/>
<ellipse cx="1130.7" cy="436.8" rx="6.8" ry="6.8" fill="#1b7fae"/>
<ellipse cx="1127.3" cy="448.7" rx="5.9" ry="5.1" fill="#1b7fae"/>
<ellipse cx="1125.6" cy="402.8" rx="2.5" ry="6.8" fill="#1b7fae"/>
<ellipse cx="1129.0" cy="416.4" rx="5.1" ry="4.2" fill="#eadc18"/>
<ellipse cx="1145.9" cy="406.2" rx="5.1" ry="3.4" fill="#eadc18"/>
<ellipse cx="1106.9" cy="399.4" rx="6.8" ry="2.0" fill="#eadc18"/>
<ellipse cx="1173.1" cy="426.6" rx="5.1" ry="5.9" fill="#7cc032"/>
<ellipse cx="1183.3" cy="424.9" rx="8.5" ry="6.8" fill="#eadc18"/>
<path d="M1110.3 472.4 L1123.9 475.8 L1134.0 492.8 L1140.8 506.4 L1123.9 509.8 L1113.7 503.0 L1106.9 489.4 Z" fill="#f09a1e"/>
<path d="M1079.7 508.1 L1100.1 503.0 L1110.3 506.4 L1106.9 520.0 L1110.3 533.6 L1106.9 547.2 L1103.5 560.7 L1093.3 560.7 L1083.1 548.9 L1084.8 533.6 L1084.8 520.0 Z" fill="#eadc18"/>
<ellipse cx="1090.7" cy="543.8" rx="3.1" ry="5.1" fill="#229c34"/>
<ellipse cx="1089.9" cy="509.8" rx="3.4" ry="2.5" fill="#7cc032"/>
<ellipse cx="1120.5" cy="596.4" rx="4.2" ry="6.8" fill="#7cc032"/>
<ellipse cx="1127.3" cy="591.3" rx="5.1" ry="5.1" fill="#eadc18"/>
<ellipse cx="1047.4" cy="645.6" rx="11.9" ry="8.5" fill="#f09a1e"/>
<path d="M1045.8 628.7 L1061.0 615.1 L1069.5 625.3 L1079.7 628.7 L1086.5 638.8 L1083.1 655.8 L1072.9 649.0 L1062.7 642.2 L1052.5 642.2 Z" fill="#eadc18"/>
<ellipse cx="1075.5" cy="632.1" rx="3.4" ry="2.5" fill="#229c34"/>
<ellipse cx="1020.3" cy="660.9" rx="10.2" ry="4.2" fill="#eadc18"/>
<ellipse cx="1174.8" cy="615.1" rx="10.2" ry="3.4" fill="#f09a1e"/>
<ellipse cx="1134.0" cy="557.3" rx="6.8" ry="5.1" fill="#f09a1e"/>
</g></g>
<use href="#eng" transform="matrix(0.9994 0 0 1.0000 0.55 0.09)" fill="none" stroke="#3a3020" stroke-opacity=".22" stroke-width="1.3"/>
</g>
<circle cx="990.0" cy="671.8" r="2" fill="#4a4a4a"/>
</g>
<g id="m-may">
<use href="#wal" transform="matrix(1.0057 0 0 0.9960 380.45 2.41)" filter="url(#b1)"/>
<g filter="url(#b1)"><g clip-path="url(#c-may)">
<rect x="1387" y="337" width="286" height="355" fill="#229c34"/>
<g filter="url(#b3)">
<path d="M1474.9 506.8 L1542.8 500.0 L1610.7 500.0 L1660.0 510.2 L1661.7 550.9 L1644.7 576.4 L1610.7 595.1 L1585.3 625.7 L1542.8 632.4 L1512.3 632.4 L1491.9 584.9 L1474.9 564.5 Z" fill="#7cc032"/>
<path d="M1407.0 663.0 L1430.8 639.2 L1447.7 615.5 L1485.1 608.7 L1485.1 635.8 L1471.5 656.2 L1440.9 652.8 L1420.6 669.8 Z" fill="#7cc032"/>
<path d="M1539.4 441.9 L1559.8 435.1 L1583.6 441.9 L1603.9 469.0 L1610.7 492.8 L1593.8 509.8 L1542.8 509.8 L1539.4 475.8 Z" fill="#7cc032"/>
<path d="M1505.5 382.4 L1517.3 387.5 L1522.4 397.7 L1515.7 407.9 L1508.9 413.0 L1515.7 419.8 L1524.1 426.6 L1530.9 433.4 L1539.4 441.9 L1541.1 450.4 L1534.3 457.2 L1537.7 469.0 L1541.1 479.2 L1541.1 492.8 L1536.0 504.7 L1527.5 494.5 L1524.1 477.5 L1514.0 469.0 L1502.1 464.0 L1498.7 452.1 L1503.8 443.6 L1495.3 440.2 L1485.1 430.0 L1480.0 419.8 L1482.5 409.6 L1493.6 406.2 L1498.7 396.0 Z" fill="#128c96"/>
<path d="M1507.2 385.8 L1515.7 389.2 L1519.0 397.7 L1512.3 407.9 L1505.5 413.0 L1512.3 421.5 L1519.0 428.3 L1525.8 435.1 L1534.3 441.9 L1536.0 448.7 L1530.9 455.5 L1534.3 469.0 L1537.7 479.2 L1537.7 492.8 L1534.3 501.3 L1529.2 492.8 L1525.8 475.8 L1515.7 465.7 L1505.5 462.3 L1502.1 452.1 L1507.2 441.9 L1498.7 438.5 L1488.5 428.3 L1483.4 419.8 L1485.1 411.3 L1495.3 407.9 L1500.4 397.7 Z" fill="#1b7fae"/>
<ellipse cx="1495.3" cy="415.6" rx="6.8" ry="4.8" fill="#2e4d69" transform="rotate(20 1495.3 415.6)"/>
<ellipse cx="1522.4" cy="436.8" rx="5.1" ry="3.1" fill="#2e4d69" transform="rotate(30 1522.4 436.8)"/>
<ellipse cx="1512.3" cy="389.2" rx="4.2" ry="2.7" fill="#2e4d69"/>
<ellipse cx="1508.9" cy="457.2" rx="3.7" ry="2.7" fill="#2e4d69"/>
<ellipse cx="1519.0" cy="414.7" rx="5.1" ry="8.5" fill="#229c34" transform="rotate(-30 1519.0 414.7)"/>
<ellipse cx="1514.0" cy="448.7" rx="4.2" ry="5.1" fill="#229c34"/>
<ellipse cx="1534.3" cy="396.0" rx="11.9" ry="5.9" fill="#eadc18" transform="rotate(30 1534.3 396.0)"/>
<ellipse cx="1512.3" cy="416.4" rx="5.9" ry="3.4" fill="#eadc18" transform="rotate(35 1512.3 416.4)"/>
<ellipse cx="1541.1" cy="423.2" rx="9.3" ry="4.2" fill="#eadc18" transform="rotate(20 1541.1 423.2)"/>
<ellipse cx="1552.2" cy="437.6" rx="4.2" ry="3.1" fill="#eadc18"/>
<ellipse cx="1496.1" cy="401.1" rx="8.5" ry="3.1" fill="#eadc18" transform="rotate(-20 1496.1 401.1)"/>
<ellipse cx="1559.8" cy="447.0" rx="10.2" ry="6.8" fill="#7cc032"/>
<path d="M1542.8 472.4 L1559.8 458.9 L1570.0 469.0 L1566.6 486.0 L1559.8 497.9 L1551.3 492.8 L1542.8 484.3 Z" fill="#eadc18"/>
<ellipse cx="1557.3" cy="475.8" rx="3.7" ry="8.5" fill="#f09a1e" transform="rotate(20 1557.3 475.8)"/>
<ellipse cx="1578.5" cy="475.8" rx="4.2" ry="10.2" fill="#eadc18"/>
<ellipse cx="1593.8" cy="480.9" rx="3.4" ry="6.8" fill="#eadc18"/>
<ellipse cx="1583.6" cy="458.9" rx="6.8" ry="6.8" fill="#7cc032"/>
<ellipse cx="1498.7" cy="497.9" rx="5.9" ry="8.5" fill="#eadc18"/>
<ellipse cx="1497.0" cy="503.0" rx="2.5" ry="4.2" fill="#f09a1e"/>
<ellipse cx="1508.9" cy="514.9" rx="17.0" ry="5.1" fill="#eadc18"/>
<ellipse cx="1556.4" cy="513.2" rx="13.6" ry="5.1" fill="#eadc18"/>
<path d="M1478.3 510.2 L1495.3 506.8 L1519.0 511.9 L1529.2 520.4 L1525.8 534.0 L1522.4 547.5 L1515.7 564.5 L1505.5 566.2 L1491.9 557.7 L1481.7 550.9 L1474.9 540.8 L1478.3 527.2 Z" fill="#eadc18"/>
<ellipse cx="1505.5" cy="545.8" rx="8.5" ry="15.3" fill="#f09a1e" transform="rotate(-15 1505.5 545.8)"/>
<ellipse cx="1498.7" cy="522.1" rx="6.8" ry="6.8" fill="#f09a1e"/>
<ellipse cx="1478.3" cy="542.4" rx="5.1" ry="6.8" fill="#229c34"/>
<ellipse cx="1485.1" cy="510.2" rx="8.5" ry="3.4" fill="#229c34"/>
<ellipse cx="1530.9" cy="522.1" rx="4.2" ry="6.8" fill="#229c34"/>
<ellipse cx="1546.2" cy="530.6" rx="2.0" ry="5.1" fill="#229c34"/>
<ellipse cx="1542.8" cy="517.0" rx="10.2" ry="10.2" fill="#eadc18"/>
<ellipse cx="1559.8" cy="510.2" rx="11.9" ry="6.8" fill="#eadc18"/>
<ellipse cx="1549.6" cy="540.8" rx="6.8" ry="4.2" fill="#f09a1e"/>
<path d="M1610.7 517.0 L1620.9 506.8 L1637.9 506.8 L1654.9 513.6 L1660.0 527.2 L1658.3 544.1 L1651.5 554.3 L1637.9 557.7 L1627.7 554.3 L1617.5 561.1 L1610.7 567.9 L1600.6 564.5 L1590.4 567.9 L1576.8 567.9 L1566.6 561.1 L1559.8 550.9 L1566.6 540.8 L1576.8 534.0 L1593.8 530.6 Z" fill="#eadc18"/>
<path d="M1573.4 522.1 L1590.4 513.6 L1603.9 506.8 L1610.7 513.6 L1597.2 522.1 L1583.6 528.9 L1570.0 532.3 Z" fill="#229c34"/>
<ellipse cx="1632.8" cy="518.7" rx="5.9" ry="6.8" fill="#f09a1e"/>
<ellipse cx="1590.4" cy="544.1" rx="6.8" ry="11.9" fill="#f09a1e" transform="rotate(10 1590.4 544.1)"/>
<ellipse cx="1607.3" cy="534.0" rx="3.4" ry="10.2" fill="#f09a1e" transform="rotate(30 1607.3 534.0)"/>
<ellipse cx="1566.6" cy="550.9" rx="4.2" ry="8.5" fill="#f09a1e" transform="rotate(-20 1566.6 550.9)"/>
<ellipse cx="1576.8" cy="566.2" rx="13.6" ry="3.4" fill="#f09a1e"/>
<ellipse cx="1575.1" cy="550.9" rx="2.5" ry="8.5" fill="#7cc032" transform="rotate(-10 1575.1 550.9)"/>
<ellipse cx="1612.4" cy="549.2" rx="4.2" ry="2.0" fill="#229c34"/>
<ellipse cx="1639.6" cy="540.8" rx="6.8" ry="2.0" fill="#229c34"/>
<ellipse cx="1654.9" cy="528.9" rx="3.4" ry="6.8" fill="#229c34"/>
<ellipse cx="1632.8" cy="564.5" rx="11.9" ry="8.5" fill="#229c34"/>
<ellipse cx="1624.3" cy="576.4" rx="10.2" ry="6.8" fill="#229c34"/>
<path d="M1512.3 571.3 L1525.8 557.7 L1542.8 554.3 L1556.4 557.7 L1553.0 567.9 L1539.4 564.5 L1530.9 574.7 L1536.0 591.7 L1525.8 601.9 L1519.0 618.9 L1508.9 629.0 L1498.7 625.7 L1498.7 608.7 L1505.5 591.7 Z" fill="#229c34"/>
<ellipse cx="1519.0" cy="591.7" rx="3.1" ry="3.4" fill="#1b7fae"/>
<ellipse cx="1512.3" cy="603.6" rx="3.4" ry="3.4" fill="#1b7fae"/>
<path d="M1532.6 571.3 L1542.8 564.5 L1559.8 571.3 L1576.8 571.3 L1593.8 567.9 L1610.7 573.0 L1607.3 584.9 L1593.8 591.7 L1587.0 601.9 L1583.6 618.9 L1573.4 618.9 L1559.8 608.7 L1549.6 601.9 L1539.4 595.1 L1534.3 584.9 Z" fill="#eadc18"/>
<ellipse cx="1581.0" cy="605.3" rx="3.1" ry="11.9" fill="#f09a1e"/>
<ellipse cx="1564.9" cy="596.8" rx="4.2" ry="2.5" fill="#f09a1e"/>
<ellipse cx="1549.6" cy="581.5" rx="6.8" ry="3.4" fill="#f09a1e"/>
<ellipse cx="1595.5" cy="579.8" rx="6.8" ry="3.4" fill="#229c34"/>
<ellipse cx="1546.2" cy="588.3" rx="5.1" ry="3.4" fill="#229c34"/>
<ellipse cx="1559.8" cy="612.1" rx="10.2" ry="5.1" fill="#229c34"/>
<ellipse cx="1532.6" cy="615.5" rx="5.1" ry="8.5" fill="#229c34"/>
<path d="M1590.4 601.9 L1610.7 595.1 L1627.7 595.1 L1651.5 593.4 L1649.8 605.3 L1637.9 615.5 L1624.3 624.0 L1610.7 630.7 L1593.8 625.7 L1587.0 617.2 Z" fill="#229c34"/>
<ellipse cx="1598.9" cy="617.2" rx="8.5" ry="3.1" fill="#eadc18"/>
<ellipse cx="1620.9" cy="615.5" rx="6.8" ry="2.5" fill="#eadc18"/>
<ellipse cx="1576.8" cy="622.3" rx="5.1" ry="3.4" fill="#eadc18"/>
<ellipse cx="1520.7" cy="629.0" rx="6.8" ry="8.5" fill="#eadc18"/>
<ellipse cx="1520.7" cy="630.7" rx="2.5" ry="2.0" fill="#f09a1e"/>
<ellipse cx="1546.2" cy="607.0" rx="5.1" ry="5.1" fill="#eadc18"/>
<ellipse cx="1556.4" cy="634.1" rx="8.5" ry="4.2" fill="#7cc032"/>
<ellipse cx="1449.4" cy="617.2" rx="6.8" ry="6.8" fill="#eadc18"/>
<ellipse cx="1480.0" cy="622.3" rx="5.1" ry="8.5" fill="#eadc18"/>
<ellipse cx="1442.6" cy="635.8" rx="5.9" ry="8.5" fill="#eadc18"/>
<ellipse cx="1468.1" cy="632.4" rx="2.0" ry="5.1" fill="#eadc18"/>
<ellipse cx="1420.6" cy="659.6" rx="8.5" ry="5.1" fill="#eadc18" transform="rotate(-30 1420.6 659.6)"/>
<ellipse cx="1474.9" cy="649.4" rx="3.4" ry="5.1" fill="#eadc18"/>
<ellipse cx="1466.4" cy="607.0" rx="11.9" ry="3.1" fill="#f09a1e" transform="rotate(-5 1466.4 607.0)"/>
<ellipse cx="1405.3" cy="663.0" rx="5.1" ry="3.1" fill="#f09a1e"/>
<ellipse cx="1418.9" cy="668.1" rx="3.4" ry="2.5" fill="#f09a1e"/>
<ellipse cx="1424.0" cy="652.8" rx="4.2" ry="2.5" fill="#f09a1e" transform="rotate(-40 1424.0 652.8)"/>
<ellipse cx="1459.6" cy="637.5" rx="4.2" ry="8.5" fill="#128c96"/>
<ellipse cx="1491.9" cy="608.7" rx="6.8" ry="5.1" fill="#7cc032"/>
</g></g>
<use href="#eng" transform="matrix(1.0057 0 0 0.9960 380.45 2.41)" fill="none" stroke="#3a3020" stroke-opacity=".22" stroke-width="1.3"/>
</g>
<circle cx="1376.1" cy="671.4" r="2" fill="#4a4a4a"/>
</g>
<g id="m-jun">
<use href="#wal" transform="matrix(0.9417 0 0 0.9327 -716.08 556.90)" filter="url(#b1)"/>
<g filter="url(#b1)"><g clip-path="url(#c-jun)">
<rect x="226" y="870" width="270" height="335" fill="#eadc18"/>
<g filter="url(#b3)">
<path d="M362.5 882.7 L372.7 892.1 L374.4 909.1 L372.7 926.0 L372.7 943.0 L374.4 958.3 L374.4 975.3 L369.3 988.9 L357.4 992.3 L343.9 999.0 L333.7 995.7 L330.3 982.1 L335.4 971.9 L326.9 970.2 L316.7 954.9 L315.0 943.0 L321.8 929.4 L333.7 920.9 L343.9 910.8 L354.0 898.9 Z" fill="#229c34"/>
<ellipse cx="365.9" cy="892.1" rx="5.1" ry="6.8" fill="#eadc18"/>
<ellipse cx="360.8" cy="927.7" rx="10.2" ry="4.2" fill="#eadc18"/>
<ellipse cx="369.3" cy="944.7" rx="5.1" ry="10.2" fill="#eadc18"/>
<ellipse cx="365.9" cy="958.3" rx="5.1" ry="5.1" fill="#eadc18"/>
<ellipse cx="335.4" cy="927.7" rx="5.1" ry="2.5" fill="#eadc18"/>
<ellipse cx="326.9" cy="946.4" rx="6.8" ry="6.8" fill="#128c96"/>
<ellipse cx="335.4" cy="953.2" rx="17.0" ry="6.8" fill="#2e4d69" transform="rotate(30 335.4 953.2)"/>
<ellipse cx="343.9" cy="975.3" rx="10.2" ry="6.8" fill="#1b7fae"/>
<ellipse cx="342.2" cy="917.5" rx="5.1" ry="3.4" fill="#1b7fae"/>
<ellipse cx="362.5" cy="912.4" rx="3.1" ry="2.4" fill="#1b7fae"/>
<path d="M374.4 926.0 L382.9 944.7 L394.8 944.7 L408.4 953.2 L420.3 968.5 L428.8 994.0 L435.6 1005.8 L437.2 1019.4 L428.8 1029.6 L411.8 1027.9 L394.8 1022.8 L384.6 1019.4 L386.3 1002.4 L377.8 988.9 L376.1 971.9 L376.1 951.5 Z" fill="#f09a1e"/>
<ellipse cx="388.0" cy="961.7" rx="5.1" ry="6.8" fill="#7cc032"/>
<ellipse cx="401.6" cy="960.8" rx="3.1" ry="3.1" fill="#229c34"/>
<ellipse cx="369.3" cy="1012.6" rx="13.6" ry="12.7" fill="#229c34"/>
<ellipse cx="371.0" cy="1016.0" rx="4.2" ry="4.2" fill="#7cc032"/>
<ellipse cx="340.5" cy="994.0" rx="10.2" ry="6.8" fill="#229c34"/>
<ellipse cx="320.1" cy="1034.7" rx="8.5" ry="6.8" fill="#229c34"/>
<ellipse cx="354.0" cy="1038.1" rx="8.5" ry="8.5" fill="#229c34"/>
<ellipse cx="422.0" cy="1038.1" rx="8.5" ry="4.2" fill="#229c34"/>
<ellipse cx="340.5" cy="1022.8" rx="8.5" ry="5.9" fill="#f09a1e"/>
<path d="M386.3 1010.0 L437.2 1010.0 L437.2 1023.6 L445.7 1028.7 L462.7 1027.0 L479.7 1037.2 L483.9 1052.4 L479.7 1069.4 L469.5 1086.4 L459.3 1098.3 L449.1 1110.2 L462.7 1111.9 L476.3 1113.6 L474.6 1127.2 L462.7 1137.3 L445.7 1145.8 L435.6 1144.1 L428.8 1128.9 L411.8 1125.5 L405.0 1111.9 L411.8 1094.9 L428.8 1084.7 L435.6 1067.7 L425.4 1060.9 L411.8 1077.9 L401.6 1084.7 L388.0 1081.3 L388.0 1067.7 L401.6 1057.5 L398.2 1040.6 L388.0 1027.0 Z" fill="#f09a1e"/>
<ellipse cx="454.2" cy="1076.2" rx="2.5" ry="8.5" fill="#7cc032" transform="rotate(30 454.2 1076.2)"/>
<ellipse cx="420.3" cy="1069.4" rx="5.1" ry="10.2" fill="#eadc18" transform="rotate(20 420.3 1069.4)"/>
<ellipse cx="418.6" cy="1091.5" rx="5.1" ry="6.8" fill="#229c34"/>
<ellipse cx="425.4" cy="1037.2" rx="10.2" ry="4.2" fill="#229c34"/>
<ellipse cx="403.3" cy="1049.1" rx="5.1" ry="3.4" fill="#229c34"/>
<path d="M309.9 1032.1 L326.9 1027.0 L330.3 1037.2 L343.9 1038.9 L360.8 1040.6 L369.3 1050.8 L364.2 1064.3 L354.0 1077.9 L357.4 1091.5 L343.9 1088.1 L330.3 1081.3 L320.1 1076.2 L309.9 1069.4 L308.2 1054.1 L316.7 1044.0 Z" fill="#229c34"/>
<ellipse cx="330.3" cy="1045.7" rx="8.5" ry="5.1" fill="#eadc18"/>
<ellipse cx="340.5" cy="1066.0" rx="5.1" ry="5.1" fill="#eadc18"/>
<ellipse cx="357.4" cy="1066.0" rx="5.1" ry="6.8" fill="#eadc18"/>
<ellipse cx="343.9" cy="1023.6" rx="8.5" ry="5.1" fill="#f09a1e"/>
<ellipse cx="365.9" cy="1015.1" rx="10.2" ry="8.5" fill="#229c34"/>
<ellipse cx="377.8" cy="1074.5" rx="5.1" ry="3.4" fill="#229c34"/>
<path d="M237.7 1178.1 L252.2 1169.6 L267.4 1154.3 L281.0 1139.0 L292.9 1123.8 L309.9 1125.5 L330.3 1120.4 L340.5 1108.5 L350.7 1101.7 L364.2 1111.9 L364.2 1125.5 L354.0 1137.3 L333.7 1140.7 L326.9 1149.2 L316.7 1152.6 L309.9 1169.6 L301.4 1173.0 L289.5 1166.2 L272.5 1167.9 L259.0 1183.2 Z" fill="#229c34"/>
<ellipse cx="320.1" cy="1135.7" rx="10.2" ry="5.1" fill="#128c96"/>
<ellipse cx="338.8" cy="1117.0" rx="6.8" ry="6.8" fill="#1b7fae"/>
<ellipse cx="337.1" cy="1132.3" rx="4.2" ry="4.2" fill="#1b7fae"/>
<ellipse cx="292.9" cy="1156.0" rx="6.8" ry="5.1" fill="#1b7fae"/>
<ellipse cx="270.8" cy="1162.8" rx="5.1" ry="3.4" fill="#1b7fae"/>
<ellipse cx="281.0" cy="1136.5" rx="2.4" ry="4.2" fill="#2e4d69"/>
<ellipse cx="243.7" cy="1176.4" rx="6.8" ry="4.2" fill="#7cc032"/>
<ellipse cx="301.4" cy="1125.5" rx="6.8" ry="3.4" fill="#eadc18"/>
<ellipse cx="299.7" cy="1123.8" rx="5.1" ry="1.7" fill="#f09a1e"/>
<ellipse cx="309.9" cy="1162.8" rx="2.5" ry="4.2" fill="#eadc18"/>
<ellipse cx="391.4" cy="1135.7" rx="8.5" ry="5.9" fill="#229c34"/>
<ellipse cx="422.0" cy="1139.0" rx="10.2" ry="6.8" fill="#229c34"/>
<ellipse cx="371.0" cy="1127.2" rx="2.5" ry="3.4" fill="#229c34"/>
<ellipse cx="388.0" cy="1152.6" rx="6.8" ry="3.4" fill="#f09a1e"/>
<ellipse cx="377.8" cy="1115.3" rx="6.8" ry="8.5" fill="#f09a1e"/>
<ellipse cx="354.0" cy="1150.9" rx="6.8" ry="3.4" fill="#f09a1e"/>
</g></g>
<use href="#eng" transform="matrix(0.9417 0 0 0.9327 -716.08 556.90)" fill="none" stroke="#3a3020" stroke-opacity=".22" stroke-width="1.3"/>
</g>
<circle cx="216.2" cy="1183.4" r="2" fill="#4a4a4a"/>
</g>
<g id="m-jul">
<use href="#wal" transform="matrix(0.9831 0 0 0.9726 -377.12 538.04)" filter="url(#b1)"/>
<g filter="url(#b1)"><g clip-path="url(#c-jul)">
<rect x="606" y="865" width="280" height="347" fill="#df4e1c"/>
<g filter="url(#b3)">
<path d="M688.1 1034.8 L715.3 1031.4 L745.8 1028.0 L762.8 1017.8 L779.8 997.4 L796.8 987.3 L813.8 994.0 L823.9 1017.8 L813.8 1034.8 L796.8 1051.8 L779.8 1068.8 L762.8 1085.7 L745.8 1092.5 L728.9 1085.7 L711.9 1082.3 L701.7 1068.8 L691.5 1051.8 Z" fill="#e4601c"/>
<ellipse cx="728.9" cy="1129.9" rx="20.4" ry="11.9" fill="#e4601c"/>
<ellipse cx="660.9" cy="1153.7" rx="25.5" ry="10.2" fill="#e4601c" transform="rotate(-30 660.9 1153.7)"/>
<path d="M773.0 977.1 L790.0 970.3 L803.6 966.9 L817.2 980.5 L820.6 994.0 L807.0 990.7 L793.4 990.7 L779.8 997.4 L773.0 1011.0 L762.8 1017.8 L759.4 1004.2 Z" fill="#f09a1e"/>
<path d="M711.9 1024.6 L728.9 1031.4 L756.0 1029.7 L766.2 1014.4 L776.4 990.7 L786.6 977.1 L807.0 973.7 L810.4 963.5 L779.8 960.1 L762.8 983.9 L752.6 1014.4 L728.9 1021.2 Z" fill="#eadc18"/>
<path d="M748.4 868.4 L769.6 887.1 L766.2 909.1 L773.0 926.1 L783.2 939.7 L796.8 949.9 L807.0 963.5 L793.4 968.6 L779.8 966.9 L773.0 973.7 L762.8 983.9 L756.0 1000.8 L756.0 1017.8 L749.2 1026.3 L739.0 1021.2 L728.9 1024.6 L718.7 1017.8 L715.3 1000.8 L718.7 983.9 L711.9 973.7 L698.3 963.5 L688.1 946.5 L694.9 927.8 L708.5 919.3 L722.1 909.1 L732.3 893.9 Z" fill="#229c34"/>
<ellipse cx="750.9" cy="897.3" rx="4.2" ry="6.8" fill="#eadc18"/>
<ellipse cx="754.3" cy="909.1" rx="5.1" ry="3.4" fill="#eadc18"/>
<ellipse cx="742.4" cy="924.4" rx="11.9" ry="5.1" fill="#eadc18" transform="rotate(20 742.4 924.4)"/>
<ellipse cx="762.8" cy="970.3" rx="6.8" ry="6.8" fill="#eadc18"/>
<ellipse cx="752.6" cy="983.9" rx="3.4" ry="6.8" fill="#eadc18"/>
<ellipse cx="705.1" cy="938.0" rx="6.8" ry="4.2" fill="#eadc18"/>
<ellipse cx="749.2" cy="895.6" rx="2.0" ry="4.2" fill="#f09a1e"/>
<ellipse cx="718.7" cy="932.9" rx="10.2" ry="5.1" fill="#f09a1e" transform="rotate(30 718.7 932.9)"/>
<ellipse cx="745.8" cy="927.8" rx="6.8" ry="2.5" fill="#f09a1e"/>
<ellipse cx="732.3" cy="977.1" rx="8.5" ry="10.2" fill="#128c96"/>
<ellipse cx="727.2" cy="915.9" rx="5.1" ry="3.4" fill="#1b7fae"/>
<ellipse cx="739.0" cy="960.1" rx="8.5" ry="6.8" fill="#1b7fae" transform="rotate(30 739.0 960.1)"/>
<ellipse cx="711.9" cy="949.9" rx="8.5" ry="4.2" fill="#1b7fae"/>
<ellipse cx="745.8" cy="968.6" rx="5.1" ry="4.2" fill="#1b7fae"/>
<ellipse cx="732.3" cy="939.7" rx="2.0" ry="8.5" fill="#1b7fae"/>
<path d="M684.7 1031.4 L705.1 1028.0 L711.9 1038.2 L708.5 1051.8 L711.9 1065.4 L708.5 1078.9 L698.3 1084.0 L686.4 1073.9 L688.1 1055.2 L689.8 1041.6 Z" fill="#eadc18"/>
<ellipse cx="694.1" cy="1070.5" rx="2.7" ry="4.2" fill="#229c34"/>
<ellipse cx="706.8" cy="1034.8" rx="6.8" ry="5.1" fill="#f09a1e"/>
</g></g>
<use href="#eng" transform="matrix(0.9831 0 0 0.9726 -377.12 538.04)" fill="none" stroke="#3a3020" stroke-opacity=".22" stroke-width="1.3"/>
</g>
<circle cx="596.2" cy="1191.3" r="2" fill="#4a4a4a"/>
</g>
<g id="m-aug">
<use href="#wal" transform="matrix(0.9799 0 0 0.9699 20.33 543.12)" filter="url(#b1)"/>
<g filter="url(#b1)"><g clip-path="url(#c-aug)">
<rect x="1001" y="869" width="280" height="346" fill="#e6681c"/>
<g filter="url(#b3)">
<ellipse cx="1256.3" cy="1067.0" rx="11.9" ry="27.2" fill="#e0541c"/>
<ellipse cx="1168.0" cy="1100.9" rx="20.4" ry="17.0" fill="#e0541c"/>
<path d="M1140.8 873.4 L1157.8 887.0 L1164.6 920.9 L1171.4 941.3 L1185.0 948.1 L1198.6 965.1 L1208.8 988.9 L1191.8 995.7 L1174.8 995.7 L1157.8 1002.4 L1147.6 988.9 L1144.2 971.9 L1147.6 954.9 L1140.8 941.3 L1134.0 934.5 L1140.8 920.9 L1144.2 904.0 L1137.4 893.8 Z" fill="#f09a1e"/>
<ellipse cx="1142.5" cy="892.1" rx="5.1" ry="5.1" fill="#eadc18"/>
<ellipse cx="1178.2" cy="961.7" rx="5.1" ry="5.1" fill="#eadc18"/>
<ellipse cx="1161.2" cy="978.7" rx="5.1" ry="6.8" fill="#eadc18"/>
<path d="M1096.7 924.3 L1117.1 920.9 L1127.3 914.1 L1135.7 900.6 L1140.8 910.8 L1134.0 927.7 L1137.4 941.3 L1147.6 951.5 L1147.6 965.1 L1140.8 971.9 L1144.2 988.9 L1151.0 1005.8 L1154.4 1022.8 L1140.8 1029.6 L1123.9 1022.8 L1113.7 1016.0 L1110.3 999.0 L1113.7 982.1 L1106.9 975.3 L1089.9 961.7 L1084.8 944.7 Z" fill="#eadc18"/>
<path d="M1123.9 914.1 L1134.0 904.0 L1139.1 914.1 L1130.7 927.7 L1123.9 937.9 L1134.0 948.1 L1144.2 954.9 L1140.8 965.1 L1134.0 971.9 L1140.8 988.9 L1147.6 1005.8 L1151.0 1022.8 L1140.8 1026.2 L1134.0 1016.0 L1123.9 1009.2 L1117.1 999.0 L1120.5 982.1 L1113.7 973.6 L1096.7 968.5 L1086.5 951.5 L1089.9 939.6 L1106.9 937.9 L1117.1 927.7 Z" fill="#229c34"/>
<ellipse cx="1117.1" cy="937.9" rx="8.5" ry="4.2" fill="#f09a1e" transform="rotate(30 1117.1 937.9)"/>
<ellipse cx="1137.4" cy="934.5" rx="6.8" ry="6.8" fill="#f09a1e"/>
<ellipse cx="1101.8" cy="949.8" rx="11.9" ry="9.3" fill="#1b7fae"/>
<ellipse cx="1123.9" cy="961.7" rx="10.2" ry="5.1" fill="#1b7fae"/>
<ellipse cx="1122.2" cy="917.5" rx="4.2" ry="3.4" fill="#1b7fae"/>
<path d="M1188.4 995.7 L1202.0 992.3 L1215.6 1005.8 L1220.6 1022.8 L1217.2 1036.4 L1208.8 1050.0 L1198.6 1056.8 L1188.4 1063.6 L1181.6 1053.4 L1178.2 1036.4 L1181.6 1022.8 L1174.8 1016.0 L1157.8 1019.4 L1154.4 1009.2 L1168.0 1005.8 Z" fill="#eadc18"/>
<ellipse cx="1198.6" cy="1005.8" rx="8.5" ry="10.2" fill="#229c34"/>
<ellipse cx="1200.3" cy="1012.6" rx="2.5" ry="3.4" fill="#1b7fae"/>
<ellipse cx="1212.2" cy="1026.2" rx="5.1" ry="10.2" fill="#229c34" transform="rotate(-20 1212.2 1026.2)"/>
<ellipse cx="1168.0" cy="1012.6" rx="10.2" ry="4.2" fill="#229c34"/>
<ellipse cx="1181.6" cy="1033.0" rx="3.4" ry="6.8" fill="#229c34" transform="rotate(30 1181.6 1033.0)"/>
<ellipse cx="1208.8" cy="1036.4" rx="2.5" ry="1.7" fill="#1b7fae"/>
<path d="M1222.3 1034.7 L1242.7 1033.0 L1242.7 1050.0 L1239.3 1070.4 L1232.5 1087.3 L1222.3 1104.3 L1208.8 1114.5 L1198.6 1124.7 L1191.8 1121.3 L1202.0 1107.7 L1215.6 1090.7 L1225.7 1070.4 L1229.1 1050.0 Z" fill="#eadc18"/>
<path d="M1225.7 1036.4 L1241.0 1034.7 L1239.3 1050.0 L1234.2 1070.4 L1230.8 1085.6 L1220.6 1102.6 L1208.8 1111.1 L1202.0 1107.7 L1215.6 1087.3 L1225.7 1067.0 L1230.8 1050.0 Z" fill="#229c34"/>
<ellipse cx="1144.2" cy="1072.1" rx="6.8" ry="6.8" fill="#eadc18"/>
<ellipse cx="1100.1" cy="1070.4" rx="5.9" ry="4.2" fill="#eadc18"/>
<ellipse cx="1088.2" cy="1036.4" rx="3.4" ry="3.4" fill="#eadc18"/>
<path d="M1191.8 1121.3 L1202.0 1117.9 L1208.8 1131.5 L1225.7 1134.9 L1229.1 1148.5 L1218.9 1155.3 L1202.0 1155.3 L1191.8 1148.5 L1181.6 1151.9 L1178.2 1134.9 L1183.3 1123.0 Z" fill="#eadc18"/>
<ellipse cx="1212.2" cy="1145.1" rx="10.2" ry="6.8" fill="#229c34"/>
<ellipse cx="1183.3" cy="1134.9" rx="2.5" ry="3.4" fill="#229c34"/>
<ellipse cx="1195.2" cy="1119.6" rx="2.5" ry="5.1" fill="#229c34"/>
<ellipse cx="1169.7" cy="1162.1" rx="3.4" ry="3.4" fill="#eadc18"/>
<path d="M1039.0 1165.5 L1055.9 1155.3 L1069.5 1145.1 L1079.7 1138.3 L1093.3 1131.5 L1106.9 1134.9 L1100.1 1145.1 L1089.9 1155.3 L1076.3 1158.7 L1062.7 1165.5 L1049.1 1170.5 Z" fill="#eadc18"/>
<ellipse cx="1086.5" cy="1146.8" rx="6.8" ry="4.2" fill="#229c34"/>
<ellipse cx="1098.4" cy="1136.6" rx="5.1" ry="3.4" fill="#229c34"/>
<ellipse cx="1055.9" cy="1162.1" rx="5.1" ry="2.5" fill="#229c34"/>
<ellipse cx="1069.5" cy="1153.6" rx="3.4" ry="1.7" fill="#229c34"/>
</g></g>
<use href="#eng" transform="matrix(0.9799 0 0 0.9699 20.33 543.12)" fill="none" stroke="#3a3020" stroke-opacity=".22" stroke-width="1.3"/>
</g>
<circle cx="990.4" cy="1194.6" r="2" fill="#4a4a4a"/>
</g>
<g id="m-sep">
<use href="#wal" transform="matrix(0.9929 0 0 0.9833 397.14 534.20)" filter="url(#b1)"/>
<g filter="url(#b1)"><g clip-path="url(#c-sep)">
<rect x="1391" y="865" width="283" height="351" fill="#229c34"/>
<g filter="url(#b3)">
<path d="M1530.8 875.1 L1546.1 887.0 L1552.9 914.1 L1559.7 934.5 L1578.4 944.7 L1588.6 958.3 L1580.1 971.9 L1563.1 971.9 L1549.5 978.7 L1544.4 992.3 L1547.8 1005.8 L1551.2 1022.8 L1539.3 1033.0 L1524.0 1033.0 L1510.5 1036.4 L1496.9 1039.8 L1476.5 1039.8 L1486.7 1022.8 L1495.2 1009.2 L1498.6 988.9 L1502.0 975.3 L1491.8 971.9 L1481.6 948.1 L1488.4 937.9 L1502.0 920.9 L1512.2 907.4 L1524.0 893.8 Z" fill="#128c96"/>
<path d="M1532.5 876.8 L1544.4 887.0 L1551.2 914.1 L1558.0 934.5 L1575.0 944.7 L1585.2 958.3 L1578.4 968.5 L1561.4 968.5 L1547.8 975.3 L1541.0 988.9 L1544.4 1005.8 L1547.8 1022.8 L1537.6 1029.6 L1524.0 1029.6 L1510.5 1033.0 L1496.9 1036.4 L1479.9 1036.4 L1490.1 1022.8 L1496.9 1009.2 L1500.3 988.9 L1503.7 975.3 L1493.5 971.9 L1483.3 948.1 L1490.1 937.9 L1503.7 920.9 L1513.9 907.4 L1525.7 893.8 Z" fill="#1b7fae"/>
<ellipse cx="1505.4" cy="929.4" rx="18.7" ry="9.3" fill="#229c34" transform="rotate(-25 1505.4 929.4)"/>
<ellipse cx="1530.8" cy="920.9" rx="10.2" ry="6.8" fill="#229c34"/>
<path d="M1479.9 939.6 L1503.7 934.5 L1513.9 944.7 L1524.0 951.5 L1534.2 961.7 L1530.8 971.9 L1513.9 968.5 L1496.9 971.9 L1483.3 958.3 Z" fill="#2e4d69"/>
<ellipse cx="1563.1" cy="954.9" rx="7.6" ry="6.8" fill="#2e4d69"/>
<ellipse cx="1520.7" cy="934.5" rx="6.8" ry="4.2" fill="#2e4d69" transform="rotate(30 1520.7 934.5)"/>
<ellipse cx="1537.6" cy="887.0" rx="5.1" ry="8.5" fill="#2e4d69"/>
<ellipse cx="1505.4" cy="999.0" rx="3.4" ry="8.5" fill="#2e4d69"/>
<ellipse cx="1534.2" cy="1004.1" rx="4.2" ry="6.8" fill="#2e4d69"/>
<ellipse cx="1534.2" cy="1019.4" rx="2.5" ry="5.1" fill="#2e4d69"/>
<ellipse cx="1513.9" cy="1012.6" rx="2.5" ry="3.4" fill="#2e4d69"/>
<ellipse cx="1534.2" cy="909.1" rx="2.5" ry="2.5" fill="#2e4d69"/>
<ellipse cx="1547.8" cy="943.0" rx="3.4" ry="5.1" fill="#2e4d69"/>
<path d="M1564.8 999.0 L1578.4 995.7 L1595.4 975.3 L1602.2 988.9 L1608.9 1005.8 L1612.3 1022.8 L1605.6 1033.0 L1612.3 1039.8 L1632.7 1046.6 L1649.7 1056.8 L1656.5 1073.8 L1646.3 1090.7 L1632.7 1104.3 L1619.1 1100.9 L1615.7 1087.3 L1598.8 1083.9 L1581.8 1094.1 L1564.8 1090.7 L1558.0 1073.8 L1571.6 1056.8 L1575.0 1039.8 L1564.8 1022.8 Z" fill="#eadc18"/>
<ellipse cx="1607.2" cy="1019.4" rx="5.1" ry="13.6" fill="#f09a1e"/>
<ellipse cx="1597.1" cy="1036.4" rx="8.5" ry="11.9" fill="#f09a1e"/>
<ellipse cx="1586.9" cy="1065.3" rx="15.3" ry="10.2" fill="#f09a1e" transform="rotate(-20 1586.9 1065.3)"/>
<ellipse cx="1569.9" cy="1078.9" rx="8.5" ry="8.5" fill="#f09a1e"/>
<ellipse cx="1642.9" cy="1070.4" rx="8.5" ry="8.5" fill="#f09a1e"/>
<ellipse cx="1631.0" cy="1087.3" rx="5.1" ry="5.1" fill="#f09a1e"/>
<ellipse cx="1590.3" cy="1010.9" rx="6.8" ry="8.5" fill="#229c34"/>
<ellipse cx="1608.9" cy="1070.4" rx="6.8" ry="5.1" fill="#7cc032"/>
<path d="M1615.7 1033.0 L1632.7 1031.3 L1649.7 1036.4 L1659.9 1050.0 L1661.6 1070.4 L1654.8 1077.2 L1649.7 1056.8 L1639.5 1046.6 L1622.5 1046.6 L1615.7 1050.0 Z" fill="#229c34"/>
<path d="M1503.7 1046.6 L1517.3 1046.6 L1527.4 1056.8 L1524.0 1070.4 L1530.8 1080.6 L1541.0 1070.4 L1544.4 1083.9 L1530.8 1090.7 L1517.3 1089.0 L1510.5 1073.8 L1505.4 1060.2 Z" fill="#eadc18"/>
<ellipse cx="1517.3" cy="1061.9" rx="4.2" ry="10.2" fill="#f09a1e"/>
<ellipse cx="1539.3" cy="1075.5" rx="3.4" ry="4.2" fill="#f09a1e"/>
<ellipse cx="1532.5" cy="1063.6" rx="5.1" ry="8.5" fill="#229c34"/>
<ellipse cx="1520.7" cy="1080.6" rx="3.4" ry="3.4" fill="#229c34"/>
<ellipse cx="1564.8" cy="1107.7" rx="6.8" ry="10.2" fill="#7cc032"/>
<ellipse cx="1551.2" cy="1060.2" rx="8.5" ry="15.3" fill="#7cc032"/>
<ellipse cx="1552.9" cy="1070.4" rx="5.1" ry="8.5" fill="#eadc18"/>
<ellipse cx="1581.8" cy="988.9" rx="10.2" ry="10.2" fill="#7cc032"/>
<ellipse cx="1578.4" cy="1009.2" rx="5.1" ry="10.2" fill="#eadc18"/>
<ellipse cx="1503.7" cy="1060.2" rx="6.8" ry="11.9" fill="#7cc032"/>
<ellipse cx="1483.3" cy="1070.4" rx="6.8" ry="11.9" fill="#1b7fae"/>
<ellipse cx="1486.7" cy="1033.0" rx="8.5" ry="5.1" fill="#1b7fae"/>
<ellipse cx="1547.8" cy="1134.9" rx="10.2" ry="6.8" fill="#128c96"/>
<path d="M1581.8 1134.9 L1598.8 1131.5 L1615.7 1124.7 L1632.7 1119.6 L1649.7 1117.9 L1651.4 1131.5 L1639.5 1145.1 L1622.5 1150.2 L1612.3 1157.0 L1598.8 1150.2 L1581.8 1148.5 L1564.8 1158.7 L1554.6 1162.1 L1547.8 1155.3 L1558.0 1145.1 L1571.6 1141.7 Z" fill="#1b7fae"/>
<ellipse cx="1603.9" cy="1145.1" rx="15.3" ry="5.1" fill="#2e4d69" transform="rotate(10 1603.9 1145.1)"/>
<ellipse cx="1558.0" cy="1157.0" rx="6.8" ry="3.4" fill="#2e4d69"/>
<ellipse cx="1566.5" cy="1143.4" rx="5.1" ry="2.5" fill="#2e4d69"/>
<ellipse cx="1582.6" cy="1129.8" rx="2.0" ry="11.9" fill="#7cc032"/>
<path d="M1402.6 1187.5 L1415.4 1179.0 L1429.0 1165.5 L1442.5 1145.1 L1457.8 1134.9 L1471.4 1136.6 L1490.1 1134.9 L1496.9 1148.5 L1490.1 1162.1 L1503.7 1165.5 L1517.3 1158.7 L1530.8 1162.1 L1527.4 1168.8 L1513.9 1165.5 L1496.9 1162.1 L1483.3 1168.8 L1476.5 1184.1 L1469.7 1189.2 L1459.5 1180.7 L1445.9 1175.6 L1429.0 1184.1 L1422.2 1192.6 Z" fill="#1b7fae"/>
<path d="M1395.0 1189.2 L1412.0 1173.9 L1425.6 1162.1 L1439.1 1141.7 L1456.1 1136.6 L1469.7 1141.7 L1473.1 1155.3 L1469.7 1168.8 L1459.5 1182.4 L1445.9 1182.4 L1429.0 1192.6 L1420.5 1201.1 Z" fill="#2e4d69"/>
<ellipse cx="1469.7" cy="1132.3" rx="6.8" ry="2.5" fill="#eadc18"/>
</g></g>
<use href="#eng" transform="matrix(0.9929 0 0 0.9833 397.14 534.20)" fill="none" stroke="#3a3020" stroke-opacity=".22" stroke-width="1.3"/>
</g>
<circle cx="1380.1" cy="1194.7" r="2" fill="#4a4a4a"/>
</g>
<g id="m-oct">
<use href="#wal" transform="matrix(0.9721 0 0 0.9699 -755.06 1069.82)" filter="url(#b1)"/>
<g filter="url(#b1)"><g clip-path="url(#c-oct)">
<rect x="217" y="1396" width="278" height="346" fill="#1b7fae"/>
<g filter="url(#b3)">
<path d="M357.5 1407.7 L369.4 1418.8 L372.8 1439.1 L366.0 1445.9 L355.8 1435.8 L350.7 1422.2 Z" fill="#229c34"/>
<path d="M389.8 1473.1 L403.4 1479.9 L417.0 1496.9 L423.8 1517.3 L430.6 1537.6 L433.9 1554.6 L432.2 1568.2 L430.6 1581.8 L433.9 1598.8 L444.1 1612.3 L447.5 1632.7 L457.7 1649.7 L467.9 1663.3 L457.7 1676.9 L437.3 1683.7 L423.8 1676.9 L406.8 1673.5 L389.8 1666.7 L389.8 1649.7 L400.0 1632.7 L406.8 1615.7 L389.8 1619.1 L372.8 1629.3 L355.8 1622.5 L338.9 1615.7 L325.3 1608.9 L318.5 1592.0 L321.9 1575.0 L328.7 1564.8 L338.9 1571.6 L352.4 1568.2 L366.0 1571.6 L372.8 1581.8 L383.0 1578.4 L396.6 1568.2 L406.8 1561.4 L420.4 1554.6 L420.4 1541.0 L413.6 1524.0 L406.8 1507.1 L400.0 1493.5 Z" fill="#229c34"/>
<path d="M349.0 1429.0 L355.8 1445.9 L359.2 1462.9 L366.0 1479.9 L372.8 1496.9 L376.2 1513.9 L379.6 1530.8 L386.4 1547.8 L389.8 1558.0 L372.8 1561.4 L359.2 1558.0 L345.7 1547.8 L338.9 1534.2 L328.7 1524.0 L325.3 1510.5 L328.7 1500.3 L316.8 1503.7 L301.5 1483.3 L298.1 1471.4 L304.9 1451.0 L320.2 1440.8 L332.1 1429.0 Z" fill="#2e4d69"/>
<ellipse cx="388.1" cy="1490.1" rx="8.5" ry="6.8" fill="#2e4d69"/>
<ellipse cx="410.2" cy="1535.9" rx="4.2" ry="5.9" fill="#2e4d69"/>
<ellipse cx="396.6" cy="1581.8" rx="3.4" ry="2.5" fill="#2e4d69"/>
<ellipse cx="393.2" cy="1534.2" rx="10.2" ry="13.6" fill="#1b7fae"/>
<ellipse cx="362.6" cy="1598.8" rx="8.5" ry="10.2" fill="#1b7fae"/>
<ellipse cx="379.6" cy="1575.0" rx="5.1" ry="6.8" fill="#1b7fae"/>
<ellipse cx="420.4" cy="1632.7" rx="11.9" ry="17.0" fill="#1b7fae"/>
<ellipse cx="403.4" cy="1659.9" rx="4.2" ry="10.2" fill="#1b7fae"/>
<ellipse cx="323.6" cy="1551.2" rx="6.8" ry="11.9" fill="#229c34"/>
<ellipse cx="308.3" cy="1564.8" rx="6.8" ry="5.1" fill="#2e4d69"/>
<ellipse cx="306.6" cy="1600.5" rx="5.9" ry="8.5" fill="#2e4d69"/>
<path d="M435.6 1559.7 L454.3 1556.3 L473.0 1562.3 L484.0 1575.0 L484.9 1590.3 L479.8 1607.2 L469.6 1622.5 L457.7 1627.6 L445.8 1617.4 L433.9 1605.6 L428.9 1592.0 L432.2 1575.0 Z" fill="#7cc032"/>
<path d="M439.0 1561.4 L454.3 1559.7 L471.3 1564.8 L481.5 1575.0 L482.9 1590.3 L478.1 1605.6 L467.9 1619.1 L457.7 1622.5 L447.5 1612.3 L437.3 1602.2 L432.2 1592.0 L435.6 1575.0 Z" fill="#eadc18"/>
<ellipse cx="474.7" cy="1578.4" rx="5.1" ry="10.2" fill="#f09a1e"/>
<ellipse cx="464.5" cy="1598.8" rx="10.2" ry="3.4" fill="#f09a1e"/>
<ellipse cx="445.8" cy="1564.8" rx="6.8" ry="3.4" fill="#f09a1e"/>
<ellipse cx="469.6" cy="1614.0" rx="5.1" ry="5.1" fill="#f09a1e"/>
<ellipse cx="445.8" cy="1580.1" rx="5.1" ry="5.1" fill="#7cc032"/>
<ellipse cx="454.3" cy="1642.9" rx="6.8" ry="8.5" fill="#7cc032"/>
<ellipse cx="464.5" cy="1656.5" rx="8.5" ry="5.9" fill="#eadc18"/>
<path d="M328.7 1649.7 L342.3 1642.9 L359.2 1644.6 L366.0 1656.5 L376.2 1666.7 L389.8 1673.5 L396.6 1683.7 L386.4 1700.6 L366.0 1698.9 L355.8 1705.7 L342.3 1702.3 L325.3 1693.8 L315.1 1693.8 L308.3 1700.6 L304.9 1717.6 L291.3 1719.3 L277.7 1709.1 L274.3 1690.5 L284.5 1683.7 L298.1 1680.3 L315.1 1673.5 L325.3 1663.3 Z" fill="#2e4d69"/>
<ellipse cx="277.7" cy="1670.1" rx="6.8" ry="6.8" fill="#2e4d69"/>
<ellipse cx="377.9" cy="1659.9" rx="5.1" ry="4.2" fill="#2e4d69"/>
<ellipse cx="410.2" cy="1659.9" rx="2.5" ry="5.1" fill="#2e4d69"/>
<path d="M284.5 1659.9 L301.5 1658.2 L321.9 1661.6 L315.1 1670.1 L298.1 1673.5 L287.9 1683.7 L277.7 1683.7 L270.9 1676.9 Z" fill="#229c34"/>
<ellipse cx="245.5" cy="1709.1" rx="10.2" ry="4.2" fill="#229c34" transform="rotate(-35 245.5 1709.1)"/>
<ellipse cx="267.5" cy="1690.5" rx="5.1" ry="5.1" fill="#229c34"/>
</g></g>
<use href="#eng" transform="matrix(0.9721 0 0 0.9699 -755.06 1069.82)" fill="none" stroke="#3a3020" stroke-opacity=".22" stroke-width="1.3"/>
</g>
<circle cx="207.3" cy="1721.3" r="2" fill="#4a4a4a"/>
</g>
<g id="m-nov">
<use href="#wal" transform="matrix(0.9506 0 0 0.9403 -338.21 1082.57)" filter="url(#b1)"/>
<g filter="url(#b1)"><g clip-path="url(#c-nov)">
<rect x="612" y="1398" width="272" height="337" fill="#2e4d69"/>
<g filter="url(#b3)">
<path d="M749.6 1410.2 L762.8 1423.8 L767.9 1447.5 L776.4 1467.9 L793.4 1478.1 L807.0 1495.1 L817.2 1518.9 L823.9 1542.6 L825.6 1556.2 L820.6 1563.0 L829.0 1559.6 L847.7 1559.6 L864.7 1569.8 L872.3 1585.1 L869.8 1600.4 L861.3 1613.9 L847.7 1624.1 L830.7 1625.8 L813.8 1617.3 L796.8 1627.5 L779.8 1637.7 L762.8 1634.3 L756.0 1620.7 L745.8 1620.7 L728.9 1617.3 L718.7 1607.2 L705.1 1586.8 L701.7 1576.6 L711.9 1563.0 L718.7 1546.0 L728.9 1542.6 L742.4 1549.4 L756.0 1556.2 L773.0 1556.2 L762.8 1535.8 L759.4 1518.9 L762.8 1495.1 L759.4 1481.5 L749.2 1474.7 L735.7 1471.3 L728.9 1461.1 L711.9 1461.1 L708.5 1457.7 L722.1 1450.9 L732.3 1437.4 L744.1 1425.5 Z" fill="#1b7fae"/>
<ellipse cx="718.7" cy="1459.4" rx="11.9" ry="4.2" fill="#128c96"/>
<ellipse cx="747.5" cy="1452.6" rx="7.6" ry="6.8" fill="#229c34"/>
<ellipse cx="749.2" cy="1454.3" rx="3.4" ry="2.5" fill="#7cc032"/>
<path d="M762.8 1474.7 L779.8 1471.3 L786.6 1491.7 L800.2 1501.9 L807.0 1515.5 L817.2 1529.0 L823.9 1546.0 L822.2 1559.6 L810.4 1563.0 L803.6 1552.8 L790.0 1549.4 L779.8 1535.8 L773.0 1518.9 L766.2 1501.9 Z" fill="#229c34"/>
<ellipse cx="812.1" cy="1518.9" rx="4.2" ry="10.2" fill="#7cc032" transform="rotate(-20 812.1 1518.9)"/>
<ellipse cx="810.4" cy="1544.3" rx="6.8" ry="8.5" fill="#1b7fae"/>
<path d="M827.3 1563.0 L844.3 1559.6 L861.3 1564.7 L869.8 1574.9 L861.3 1580.0 L847.7 1580.0 L837.5 1586.8 L830.7 1600.4 L823.9 1613.9 L813.8 1607.2 L810.4 1593.6 L813.8 1580.0 Z" fill="#229c34"/>
<ellipse cx="861.3" cy="1569.8" rx="6.8" ry="5.1" fill="#7cc032"/>
<path d="M718.7 1546.0 L732.3 1549.4 L739.0 1563.0 L749.2 1576.6 L762.8 1586.8 L779.8 1593.6 L796.8 1586.8 L803.6 1597.0 L790.0 1607.2 L773.0 1603.8 L756.0 1607.2 L742.4 1600.4 L728.9 1586.8 L718.7 1569.8 L715.3 1556.2 Z" fill="#229c34"/>
<path d="M705.1 1467.9 L722.1 1466.2 L739.0 1473.0 L756.0 1481.5 L762.8 1495.1 L761.1 1512.1 L762.8 1529.0 L767.9 1546.0 L773.0 1556.2 L759.4 1557.9 L749.2 1549.4 L735.7 1540.9 L725.5 1535.8 L718.7 1525.7 L720.4 1512.1 L725.5 1501.9 L715.3 1500.2 L705.1 1484.9 Z" fill="#2e4d69"/>
<ellipse cx="769.6" cy="1573.2" rx="5.1" ry="3.4" fill="#2e4d69"/>
<ellipse cx="788.3" cy="1568.1" rx="4.2" ry="3.4" fill="#2e4d69"/>
<ellipse cx="732.3" cy="1593.6" rx="5.1" ry="3.4" fill="#2e4d69"/>
<ellipse cx="750.9" cy="1591.9" rx="2.5" ry="5.1" fill="#2e4d69"/>
<ellipse cx="776.4" cy="1613.9" rx="3.4" ry="5.1" fill="#2e4d69"/>
<ellipse cx="851.1" cy="1586.8" rx="4.2" ry="2.5" fill="#2e4d69"/>
<ellipse cx="739.0" cy="1442.4" rx="6.8" ry="4.2" fill="#2e4d69"/>
<ellipse cx="779.8" cy="1488.3" rx="5.1" ry="4.2" fill="#2e4d69"/>
<ellipse cx="771.3" cy="1630.9" rx="10.2" ry="5.1" fill="#229c34"/>
<ellipse cx="868.1" cy="1600.4" rx="4.2" ry="13.6" fill="#2e4d69"/>
<ellipse cx="701.7" cy="1566.4" rx="6.8" ry="6.8" fill="#2e4d69"/>
<ellipse cx="701.7" cy="1595.3" rx="6.8" ry="10.2" fill="#2e4d69"/>
<ellipse cx="797.6" cy="1654.7" rx="1.4" ry="13.6" fill="#1b7fae"/>
<ellipse cx="689.8" cy="1658.1" rx="5.9" ry="2.5" fill="#1b7fae"/>
<ellipse cx="781.5" cy="1647.9" rx="4.2" ry="3.4" fill="#1b7fae"/>
</g></g>
<use href="#eng" transform="matrix(0.9506 0 0 0.9403 -338.21 1082.57)" fill="none" stroke="#3a3020" stroke-opacity=".22" stroke-width="1.3"/>
</g>
<circle cx="602.9" cy="1714.2" r="2" fill="#4a4a4a"/>
</g>
<g id="m-dec">
<use href="#wal" transform="matrix(0.9981 0 0 0.9833 -1.09 1060.90)" filter="url(#b1)"/>
<g filter="url(#b1)"><g clip-path="url(#c-dec)">
<rect x="998" y="1391" width="284" height="351" fill="#229c34"/>
<g filter="url(#b3)">
<ellipse cx="1139.2" cy="1442.5" rx="13.6" ry="6.8" fill="#1b7fae"/>
<ellipse cx="1132.4" cy="1454.4" rx="6.8" ry="5.1" fill="#1b7fae"/>
<path d="M1141.8 1395.0 L1163.0 1412.0 L1157.9 1429.0 L1149.4 1435.8 L1135.8 1442.5 L1122.3 1445.9 L1105.3 1451.0 L1108.7 1435.8 L1124.0 1422.2 L1127.3 1412.0 Z" fill="#2e4d69"/>
<ellipse cx="1108.7" cy="1456.1" rx="11.9" ry="6.8" fill="#229c34"/>
<ellipse cx="1152.8" cy="1456.1" rx="11.9" ry="13.6" fill="#229c34"/>
<path d="M1091.7 1462.9 L1108.7 1459.5 L1125.7 1466.3 L1139.2 1469.7 L1152.8 1476.5 L1156.2 1496.9 L1157.9 1513.9 L1161.3 1530.8 L1163.0 1547.8 L1152.8 1558.0 L1139.2 1551.2 L1122.3 1534.2 L1105.3 1530.8 L1107.0 1513.9 L1112.1 1500.3 L1101.9 1496.9 L1091.7 1483.3 Z" fill="#1b7fae"/>
<path d="M1084.9 1466.3 L1108.7 1462.9 L1122.3 1469.7 L1135.8 1473.1 L1149.4 1479.9 L1152.8 1496.9 L1154.5 1513.9 L1156.2 1530.8 L1152.8 1544.4 L1142.6 1547.8 L1135.8 1537.6 L1122.3 1530.8 L1107.0 1529.1 L1105.3 1513.9 L1110.4 1502.0 L1098.5 1503.7 L1084.9 1486.7 Z" fill="#2e4d69"/>
<ellipse cx="1132.4" cy="1535.9" rx="10.2" ry="6.8" fill="#1b7fae"/>
<ellipse cx="1181.7" cy="1479.9" rx="15.3" ry="8.5" fill="#1b7fae" transform="rotate(30 1181.7 1479.9)"/>
<ellipse cx="1152.8" cy="1547.8" rx="6.8" ry="8.5" fill="#1b7fae"/>
<ellipse cx="1124.0" cy="1459.5" rx="5.1" ry="10.2" fill="#1b7fae" transform="rotate(-30 1124.0 1459.5)"/>
<path d="M1173.2 1524.0 L1186.8 1520.7 L1200.4 1530.8 L1210.6 1544.4 L1213.9 1558.0 L1224.1 1561.4 L1247.9 1556.3 L1264.9 1561.4 L1271.7 1575.0 L1268.3 1585.2 L1251.3 1585.2 L1237.7 1592.0 L1230.9 1605.6 L1213.9 1614.0 L1186.8 1620.8 L1169.8 1619.1 L1152.8 1617.4 L1135.8 1622.5 L1118.9 1620.8 L1108.7 1608.9 L1101.9 1592.0 L1105.3 1575.0 L1117.2 1566.5 L1135.8 1563.1 L1152.8 1563.1 L1169.8 1561.4 L1176.6 1551.2 L1176.6 1537.6 Z" fill="#7cc032"/>
<path d="M1176.6 1527.4 L1186.8 1524.0 L1197.0 1534.2 L1207.2 1547.8 L1210.6 1561.4 L1220.7 1564.8 L1227.5 1561.4 L1244.5 1559.7 L1261.5 1564.8 L1268.3 1575.0 L1264.9 1581.8 L1247.9 1581.8 L1234.3 1588.6 L1227.5 1602.2 L1210.6 1608.9 L1186.8 1615.7 L1169.8 1614.0 L1152.8 1612.3 L1135.8 1617.4 L1122.3 1615.7 L1112.1 1605.6 L1105.3 1592.0 L1108.7 1578.4 L1118.9 1569.9 L1135.8 1566.5 L1152.8 1566.5 L1169.8 1564.8 L1180.0 1554.6 L1180.0 1541.0 Z" fill="#eadc18"/>
<path d="M1112.1 1575.0 L1129.0 1569.9 L1146.0 1571.6 L1159.6 1581.8 L1163.0 1595.4 L1152.8 1602.2 L1139.2 1608.9 L1125.7 1610.6 L1115.5 1598.8 L1108.7 1586.9 Z" fill="#f09a1e"/>
<path d="M1180.0 1581.8 L1193.6 1571.6 L1207.2 1568.2 L1220.7 1571.6 L1229.2 1581.8 L1227.5 1593.7 L1213.9 1602.2 L1200.4 1602.2 L1186.8 1595.4 Z" fill="#f09a1e"/>
<ellipse cx="1193.6" cy="1546.1" rx="5.1" ry="8.5" fill="#f09a1e"/>
<ellipse cx="1142.6" cy="1585.2" rx="3.1" ry="13.6" fill="#eadc18"/>
<ellipse cx="1156.2" cy="1586.9" rx="2.5" ry="5.1" fill="#7cc032"/>
<ellipse cx="1161.3" cy="1573.3" rx="5.1" ry="3.4" fill="#229c34"/>
<path d="M1227.5 1561.4 L1244.5 1559.7 L1237.7 1571.6 L1234.3 1581.8 L1241.1 1592.0 L1254.7 1585.2 L1268.3 1581.8 L1268.3 1598.8 L1261.5 1615.7 L1247.9 1622.5 L1237.7 1615.7 L1230.9 1602.2 L1227.5 1592.0 L1229.2 1575.0 Z" fill="#229c34"/>
<ellipse cx="1251.3" cy="1573.3" rx="8.5" ry="6.8" fill="#eadc18"/>
<ellipse cx="1254.7" cy="1603.9" rx="8.5" ry="10.2" fill="#7cc032"/>
<path d="M1084.9 1561.4 L1095.1 1563.1 L1101.9 1575.0 L1095.1 1588.6 L1095.1 1602.2 L1101.9 1612.3 L1098.5 1615.7 L1088.3 1605.6 L1084.9 1592.0 L1086.6 1578.4 Z" fill="#1b7fae"/>
<ellipse cx="1088.3" cy="1564.8" rx="4.2" ry="4.2" fill="#2e4d69"/>
<path d="M1117.2 1632.7 L1129.0 1636.1 L1146.0 1646.3 L1163.0 1653.1 L1169.8 1663.3 L1186.8 1666.7 L1203.8 1663.3 L1220.7 1656.5 L1244.5 1649.7 L1261.5 1648.0 L1259.8 1661.6 L1244.5 1673.5 L1220.7 1683.7 L1186.8 1676.9 L1173.2 1683.7 L1166.4 1693.8 L1146.0 1690.5 L1129.0 1693.8 L1118.9 1687.1 L1101.9 1688.8 L1091.7 1700.6 L1081.5 1710.8 L1064.5 1707.4 L1047.5 1700.6 L1034.0 1712.5 L1017.0 1717.6 L1009.7 1714.2 L1034.0 1697.2 L1050.9 1683.7 L1056.0 1670.1 L1067.9 1659.9 L1088.3 1659.9 L1108.7 1649.7 Z" fill="#1b7fae"/>
<path d="M1108.7 1646.3 L1118.9 1632.7 L1129.0 1641.2 L1139.2 1659.9 L1152.8 1656.5 L1166.4 1659.9 L1169.8 1673.5 L1186.8 1675.2 L1203.8 1673.5 L1220.7 1676.9 L1237.7 1670.1 L1224.1 1692.1 L1186.8 1687.1 L1173.2 1693.8 L1166.4 1704.0 L1152.8 1697.2 L1139.2 1693.8 L1118.9 1695.5 L1098.5 1695.5 L1091.7 1710.8 L1078.1 1721.0 L1057.7 1714.2 L1040.8 1704.0 L1050.9 1673.5 L1071.3 1663.3 L1091.7 1661.6 Z" fill="#2e4d69"/>
<ellipse cx="1084.9" cy="1683.7" rx="8.5" ry="5.1" fill="#1b7fae"/>
<ellipse cx="1149.4" cy="1673.5" rx="8.5" ry="6.8" fill="#1b7fae"/>
<ellipse cx="1042.4" cy="1704.0" rx="6.8" ry="6.8" fill="#1b7fae"/>
<ellipse cx="1163.0" cy="1682.0" rx="5.1" ry="6.8" fill="#1b7fae"/>
<ellipse cx="1122.3" cy="1666.7" rx="11.9" ry="6.8" fill="#229c34" transform="rotate(20 1122.3 1666.7)"/>
<ellipse cx="1191.0" cy="1654.8" rx="2.0" ry="8.5" fill="#eadc18"/>
<ellipse cx="1076.4" cy="1658.2" rx="5.1" ry="2.0" fill="#eadc18"/>
<ellipse cx="1020.4" cy="1717.6" rx="15.3" ry="6.8" fill="#2e4d69"/>
</g></g>
<use href="#eng" transform="matrix(0.9981 0 0 0.9833 -1.09 1060.90)" fill="none" stroke="#3a3020" stroke-opacity=".22" stroke-width="1.3"/>
</g>
<circle cx="987.0" cy="1721.4" r="2" fill="#4a4a4a"/>
</g>
</g>
<g id="edges">
<rect x="0" y="0" width="1815" height="20" fill="url(#topshade)"/>
<rect x="0" y="0" width="7" height="1400" fill="url(#leftshade)"/><rect x="0" y="1400" width="11" height="600" fill="url(#leftshade)"/><rect x="0" y="2000" width="16" height="560" fill="url(#leftshade)"/>
<path d="M470 0 L1861 0 L1861 4 L1500 4 L1003 2.5 L760 2 L640 1 Z" fill="#1a1a1a"/>
<rect x="1815" y="0" width="46" height="22" fill="#0c0c0c"/>
<rect x="1814" y="22" width="47" height="2538" fill="#fdfdfd"/>
<path d="M0 2553.4 L1813 2555.6" stroke="#3c3c3c" stroke-width="1.8" fill="none" opacity=".85"/>
<path d="M0 2554.4 L1813 2556.6 L1861 2556.6 L1861 2560 L0 2560 Z" fill="#fdfdfd"/>
<rect x="0" y="2500" width="4" height="54" fill="#2a2a2a" opacity=".8"/><rect x="0" y="2553.5" width="15" height="7" fill="#0c0c0c"/>
</g>
<g id="legend" transform="rotate(0.24 1376 1410)">
<rect x="1376.5" y="1410.2" width="169.5" height="318.8" fill="#fbfbfb" stroke="#8c8c8c" stroke-width="2"/>
<rect x="1396" y="1452.8" width="36.7" height="254.5" fill="url(#lgrad)"/>
<rect x="1432.2" y="1452.8" width="36" height="72.7" fill="#2e4d69"/>
<rect x="1432.2" y="1525.1" width="36" height="37.3" fill="#1288a0"/>
<rect x="1432.2" y="1562.0" width="36" height="39.3" fill="#1e9632"/>
<rect x="1432.2" y="1600.9" width="36" height="36.3" fill="#ece60e"/>
<rect x="1432.2" y="1636.8" width="36" height="37.8" fill="#e8823e"/>
<rect x="1432.2" y="1674.2" width="36" height="33.5" fill="#d93e20"/>
<g font-family='"Liberation Sans", Arial, Helvetica, sans-serif' fill="#2a2a2a" stroke="#2a2a2a" stroke-width=".5" filter="url(#tb)">
<text x="1402.7" y="1437.5" font-size="20.6" textLength="127.5" lengthAdjust="spacingAndGlyphs">Rainfall (mm)</text>
<text x="1480" y="1475.7" font-size="20">&gt;125</text>
<text x="1480" y="1514" font-size="20">125</text>
<text x="1480" y="1551.4" font-size="20">100</text>
<text x="1480" y="1591.2" font-size="20">75</text>
<text x="1480" y="1629.4" font-size="20">50</text>
<text x="1480" y="1667.6" font-size="20">25</text>
<text x="1480" y="1705.1" font-size="20">0</text>
</g></g>
<g id="text">
<g filter="url(#tb)">
<text x="206.5" y="105.2" font-family='"Liberation Sans", Arial, Helvetica, sans-serif' font-size="35" font-weight="normal" fill="#2a2a2a" stroke="#2a2a2a" stroke-width="0.7" textLength="1393" lengthAdjust="spacingAndGlyphs" transform="rotate(0.24 206.5 105.2)">Figure 2.1: Monthly rainfall across England and Wales for the past 11 months. UKPP radar</text>
<text x="206.5" y="144.0" font-family='"Liberation Sans", Arial, Helvetica, sans-serif' font-size="35" font-weight="normal" fill="#2a2a2a" stroke="#2a2a2a" stroke-width="0.7" textLength="1439" lengthAdjust="spacingAndGlyphs" transform="rotate(0.24 206.5 144.0)">data Note: Radar beam blockages in some regions may give anomalous totals in some areas.</text>
<text x="205.4" y="299.5" font-family='"Liberation Sans", Arial, Helvetica, sans-serif' font-size="35" font-weight="normal" fill="#2a2a2a" stroke="#2a2a2a" stroke-width="0.7" textLength="227.6" lengthAdjust="spacingAndGlyphs" transform="rotate(0.24 205.4 299.5)">February 2022</text>
<text x="594.2" y="301.3" font-family='"Liberation Sans", Arial, Helvetica, sans-serif' font-size="35" font-weight="normal" fill="#2a2a2a" stroke="#2a2a2a" stroke-width="0.7" textLength="184.8" lengthAdjust="spacingAndGlyphs" transform="rotate(0.24 594.2 301.3)">March 2022</text>
<text x="984.6" y="303.1" font-family='"Liberation Sans", Arial, Helvetica, sans-serif' font-size="35" font-weight="normal" fill="#2a2a2a" stroke="#2a2a2a" stroke-width="0.7" textLength="156" lengthAdjust="spacingAndGlyphs" transform="rotate(0.24 984.6 303.1)">April 2022</text>
<text x="1371.7" y="304.9" font-family='"Liberation Sans", Arial, Helvetica, sans-serif' font-size="35" font-weight="normal" fill="#2a2a2a" stroke="#2a2a2a" stroke-width="0.7" textLength="153.4" lengthAdjust="spacingAndGlyphs" transform="rotate(0.24 1371.7 304.9)">May 2022</text>
<text x="205.8" y="828.0" font-family='"Liberation Sans", Arial, Helvetica, sans-serif' font-size="35" font-weight="normal" fill="#2a2a2a" stroke="#2a2a2a" stroke-width="0.7" textLength="163.2" lengthAdjust="spacingAndGlyphs" transform="rotate(0.24 205.8 828.0)">June 2022</text>
<text x="594.7" y="829.3" font-family='"Liberation Sans", Arial, Helvetica, sans-serif' font-size="35" font-weight="normal" fill="#2a2a2a" stroke="#2a2a2a" stroke-width="0.7" textLength="149.4" lengthAdjust="spacingAndGlyphs" transform="rotate(0.24 594.7 829.3)">July 2022</text>
<text x="983.9" y="830.7" font-family='"Liberation Sans", Arial, Helvetica, sans-serif' font-size="35" font-weight="normal" fill="#2a2a2a" stroke="#2a2a2a" stroke-width="0.7" textLength="195.5" lengthAdjust="spacingAndGlyphs" transform="rotate(0.24 983.9 830.7)">August 2022</text>
<text x="1371.9" y="832.0" font-family='"Liberation Sans", Arial, Helvetica, sans-serif' font-size="35" font-weight="normal" fill="#2a2a2a" stroke="#2a2a2a" stroke-width="0.7" textLength="256.8" lengthAdjust="spacingAndGlyphs" transform="rotate(0.24 1371.9 832.0)">September 2022</text>
<text x="204.6" y="1355.6" font-family='"Liberation Sans", Arial, Helvetica, sans-serif' font-size="35" font-weight="normal" fill="#2a2a2a" stroke="#2a2a2a" stroke-width="0.7" textLength="211.4" lengthAdjust="spacingAndGlyphs" transform="rotate(0.24 204.6 1355.6)">October 2022</text>
<text x="592.7" y="1357.2" font-family='"Liberation Sans", Arial, Helvetica, sans-serif' font-size="35" font-weight="normal" fill="#2a2a2a" stroke="#2a2a2a" stroke-width="0.7" textLength="250" lengthAdjust="spacingAndGlyphs" transform="rotate(0.24 592.7 1357.2)">November 2022</text>
<text x="981.2" y="1358.9" font-family='"Liberation Sans", Arial, Helvetica, sans-serif' font-size="35" font-weight="normal" fill="#2a2a2a" stroke="#2a2a2a" stroke-width="0.7" textLength="248.5" lengthAdjust="spacingAndGlyphs" transform="rotate(0.24 981.2 1358.9)">December 2022</text>
<text x="1370.6" y="1360.5" font-family='"Liberation Sans", Arial, Helvetica, sans-serif' font-size="35" font-weight="normal" fill="#2a2a2a" stroke="#2a2a2a" stroke-width="0.7" textLength="194" lengthAdjust="spacingAndGlyphs" transform="rotate(0.24 1370.6 1360.5)">Map Legend</text>
<text x="204.6" y="1883.4" font-family='"Liberation Sans", Arial, Helvetica, sans-serif' font-size="35" font-weight="normal" fill="#2a2a2a" stroke="#2a2a2a" stroke-width="0.7" textLength="1321.5" lengthAdjust="spacingAndGlyphs" transform="rotate(0.24 204.6 1883.4)">(Source: Met Office. Crown copyright, 2023). All rights reserved. Environment Agency,</text>
<text x="206.2" y="1924.0" font-family='"Liberation Sans", Arial, Helvetica, sans-serif' font-size="34.4" font-weight="normal" fill="#2a2a2a" stroke="#2a2a2a" stroke-width="0.7" transform="rotate(0.24 206.2 1924.0)">100024198, 2023.</text>
</g>
<text x="943" y="2460.3" font-family='"Liberation Serif", "Times New Roman", Times, serif' font-size="24.3" font-weight="bold" fill="#050505" stroke="#050505" stroke-width="0.2" textLength="220.5" lengthAdjust="spacingAndGlyphs">Environment Agency</text>
<text x="943" y="2488.4" font-family='"Liberation Serif", "Times New Roman", Times, serif' font-size="24.3" font-weight="normal" fill="#050505" stroke="#050505" stroke-width="0.25" textLength="665.5" lengthAdjust="spacingAndGlyphs">Sir John Moore House Victoria Square Bodmin Cornwall PL31 1EB</text>
<text x="943" y="2516.4" font-family='"Liberation Serif", "Times New Roman", Times, serif' font-size="24.3" font-weight="normal" fill="#050505" stroke="#050505" stroke-width="0.25" textLength="440.5" lengthAdjust="spacingAndGlyphs">Tel: Bodmin 020847 46292 or 020847 47438</text>
<g id="hand" filter="url(#tb)" font-family='"Liberation Sans", Arial, Helvetica, sans-serif' font-style="italic" fill="#1e1e1e" stroke="#1e1e1e" stroke-width="1.1" stroke-linejoin="round">
<text transform="rotate(-3 204 61)"><tspan x="204.5" y="61.5" font-size="43" textLength="23" lengthAdjust="spacingAndGlyphs">R</tspan><tspan x="231" y="60" font-size="29" textLength="97" lengthAdjust="spacing">ainfall</tspan></text>
<path d="M192 72.2 L262 71.3 L332 71.2" stroke="#222" stroke-width="3.4" stroke-linecap="round" fill="none"/>
<text x="832" y="64" transform="rotate(-2 832 64)" textLength="117" lengthAdjust="spacingAndGlyphs" fill="#303030" stroke="#303030"><tspan font-size="46">2</tspan><tspan font-size="30" dy="-3">0</tspan><tspan font-size="35" dy="1">22</tspan></text>
<path d="M826 73 L890 72.4 L953 71.2" stroke="#2c2c2c" stroke-width="3.4" stroke-linecap="round" fill="none"/>
</g>
</g>
</svg>
</body></html>
